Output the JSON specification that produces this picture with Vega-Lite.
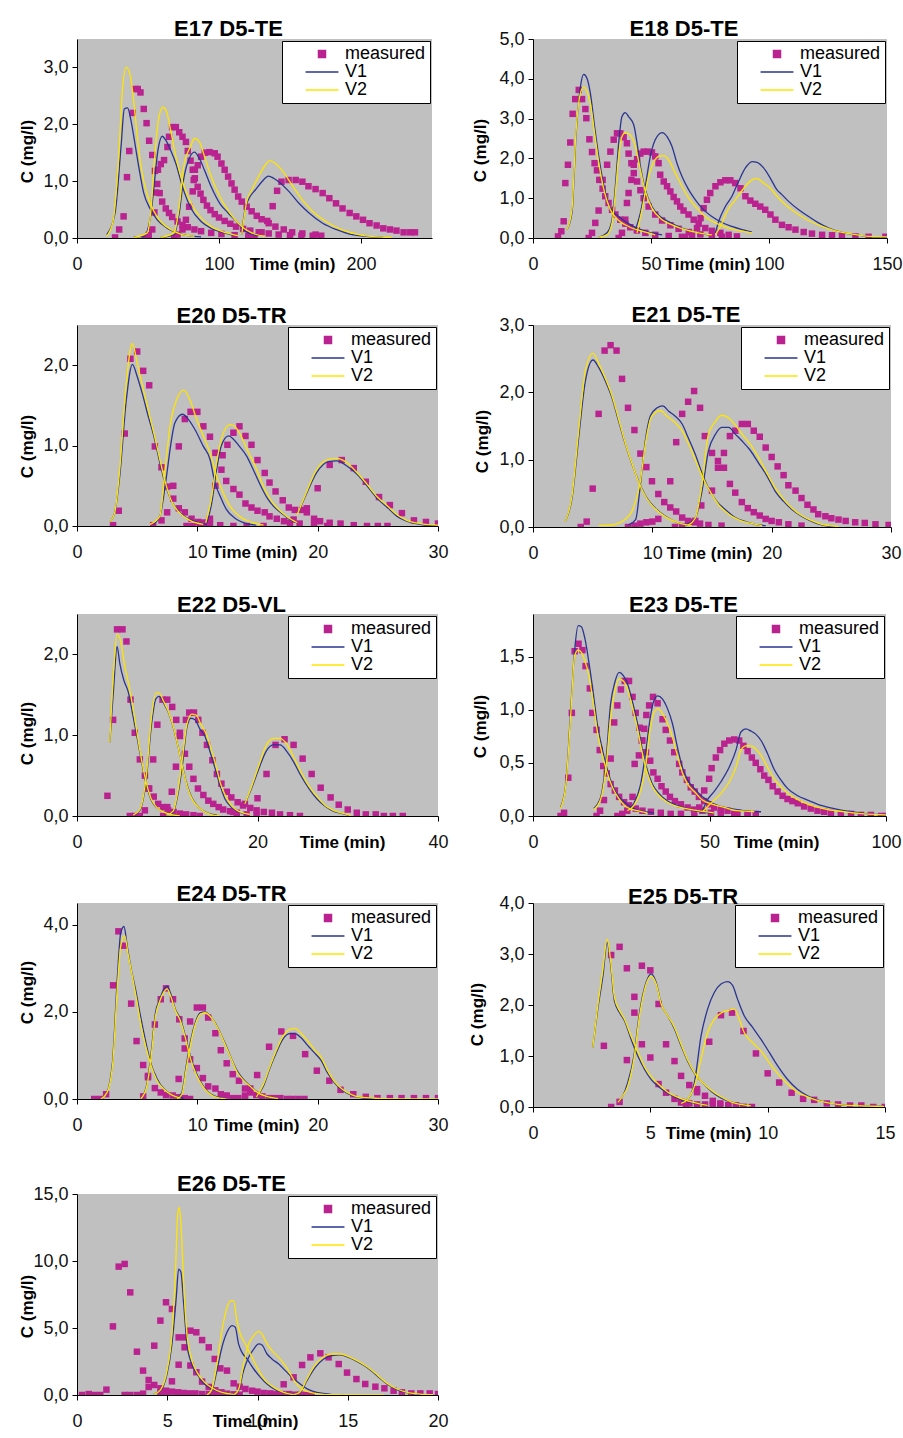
{
"$schema":"https://vega.github.io/schema/vega-lite/v6.json",
"background":"white",
"padding":{"left":18,"top":18,"right":0,"bottom":0},
"config":{
 "locale":{"number":{"decimal":",","thousands":".","grouping":[3],"currency":["","€"]}},
 "font":"Liberation Sans",
 "view":{"fill":"#C0C0C0","stroke":null},
 "axis":{"grid":false,"domainColor":"black","domainWidth":1,"tickColor":"black","tickSize":5,"labelFont":"Liberation Sans","labelFontSize":18,"labelColor":"#111111","titleFont":"Liberation Sans","titleFontSize":17,"titleFontWeight":"bold","titleColor":"black","labelOverlap":false,"labelFlush":false},
 "axisX":{"labelPadding":12,"titleY":26,"titleBaseline":"middle","titleAlign":"center","format":"d"},
 "axisY":{"labelPadding":4,"titleBaseline":"middle","titleAlign":"center","titleAngle":-90,"format":".1f"},
 "title":{"font":"Liberation Sans","fontSize":22,"fontWeight":"bold","color":"black","anchor":"middle","baseline":"alphabetic","offset":-3,"dx":-26},
 "legend":{"orient":"top-right","offset":2,"fillColor":"white","strokeColor":"black","padding":4,"labelFont":"Liberation Sans","labelFontSize":18,"labelColor":"black","symbolSize":49,"rowPadding":-2,"symbolOffset":27,"labelOffset":14}
},
"datasets":{
"E17":[
{"s":"m","t":26.8,"c":0.01},{"s":"m","t":29.7,"c":0.15},{"s":"m","t":32.8,"c":0.38},{"s":"m","t":35.2,"c":1.07},{"s":"m","t":36.8,"c":1.53},{"s":"m","t":39.2,"c":2.2},{"s":"m","t":41.1,"c":2.62},{"s":"m","t":42.8,"c":2.62},{"s":"m","t":44.7,"c":2.56},{"s":"m","t":47,"c":2.27},{"s":"m","t":49,"c":2.02},{"s":"m","t":50.8,"c":1.71},{"s":"m","t":53,"c":1.46},{"s":"m","t":54.9,"c":1.18},{"s":"m","t":56.5,"c":0.95},{"s":"m","t":58.2,"c":0.79},{"s":"m","t":60,"c":0.64},{"s":"m","t":62.5,"c":0.52},{"s":"m","t":64.8,"c":0.44},{"s":"m","t":67,"c":0.37},{"s":"m","t":70.8,"c":0.29},{"s":"m","t":74.3,"c":0.23},{"s":"m","t":78,"c":0.19},{"s":"m","t":82.7,"c":0.15},{"s":"m","t":87.4,"c":0.12},{"s":"m","t":94.5,"c":0.09},{"s":"m","t":101.7,"c":0.07},{"s":"m","t":111,"c":0.05},{"s":"m","t":120.7,"c":0.04},
{"s":"m","t":47.5,"c":0},{"s":"m","t":50.5,"c":0.05},{"s":"m","t":53,"c":0.15},{"s":"m","t":54.5,"c":0.45},{"s":"m","t":55.5,"c":0.8},{"s":"m","t":57,"c":1.2},{"s":"m","t":59,"c":1.3},{"s":"m","t":61.3,"c":1.37},{"s":"m","t":63.7,"c":1.6},{"s":"m","t":64.8,"c":1.78},{"s":"m","t":67,"c":1.95},{"s":"m","t":69.6,"c":1.95},{"s":"m","t":72,"c":1.86},{"s":"m","t":74.3,"c":1.78},{"s":"m","t":76.7,"c":1.69},{"s":"m","t":78,"c":1.53},{"s":"m","t":80,"c":1.36},{"s":"m","t":81.5,"c":1.2},{"s":"m","t":83,"c":1.05},{"s":"m","t":85,"c":0.9},{"s":"m","t":87,"c":0.78},{"s":"m","t":89,"c":0.67},{"s":"m","t":91.5,"c":0.57},{"s":"m","t":94,"c":0.49},{"s":"m","t":97,"c":0.42},{"s":"m","t":100,"c":0.36},{"s":"m","t":104,"c":0.3},{"s":"m","t":108,"c":0.25},{"s":"m","t":112,"c":0.2},{"s":"m","t":117,"c":0.16},{"s":"m","t":122,"c":0.13},{"s":"m","t":128,"c":0.1},{"s":"m","t":135,"c":0.08},{"s":"m","t":142,"c":0.06},{"s":"m","t":150,"c":0.05},{"s":"m","t":158,"c":0.04},{"s":"m","t":166,"c":0.04},{"s":"m","t":172,"c":0.04},
{"s":"m","t":68.4,"c":0},{"s":"m","t":70.8,"c":0.06},{"s":"m","t":74.3,"c":0.15},{"s":"m","t":76.7,"c":0.32},{"s":"m","t":79,"c":0.55},{"s":"m","t":81.5,"c":0.82},{"s":"m","t":82.2,"c":1.02},{"s":"m","t":83,"c":1.2},{"s":"m","t":85,"c":1.28},{"s":"m","t":87.4,"c":1.43},{"s":"m","t":90,"c":1.5},{"s":"m","t":93.3,"c":1.51},{"s":"m","t":97,"c":1.49},{"s":"m","t":99,"c":1.43},{"s":"m","t":101.7,"c":1.31},{"s":"m","t":104,"c":1.2},{"s":"m","t":106.4,"c":1.08},{"s":"m","t":108.8,"c":0.96},{"s":"m","t":111,"c":0.85},{"s":"m","t":113.5,"c":0.73},{"s":"m","t":116,"c":0.64},{"s":"m","t":119.5,"c":0.55},{"s":"m","t":123,"c":0.47},{"s":"m","t":126.6,"c":0.39},{"s":"m","t":130,"c":0.33},{"s":"m","t":135,"c":0.26},{"s":"m","t":139.7,"c":0.2},{"s":"m","t":145.6,"c":0.15},{"s":"m","t":151.5,"c":0.1},{"s":"m","t":158.7,"c":0.08},{"s":"m","t":168,"c":0.06},
{"s":"m","t":120.7,"c":0.01},{"s":"m","t":125,"c":0.03},{"s":"m","t":130,"c":0.1},{"s":"m","t":134,"c":0.3},{"s":"m","t":137.8,"c":0.56},{"s":"m","t":140.9,"c":0.83},{"s":"m","t":144,"c":0.99},{"s":"m","t":149,"c":1.02},{"s":"m","t":154,"c":1.02},{"s":"m","t":158.7,"c":0.99},{"s":"m","t":163,"c":0.91},{"s":"m","t":168,"c":0.86},{"s":"m","t":173,"c":0.79},{"s":"m","t":177.7,"c":0.7},{"s":"m","t":182.4,"c":0.61},{"s":"m","t":187,"c":0.52},{"s":"m","t":192,"c":0.44},{"s":"m","t":196.7,"c":0.38},{"s":"m","t":201.4,"c":0.32},{"s":"m","t":206,"c":0.26},{"s":"m","t":211,"c":0.22},{"s":"m","t":215.7,"c":0.17},{"s":"m","t":220.4,"c":0.15},{"s":"m","t":225,"c":0.13},{"s":"m","t":230,"c":0.1},{"s":"m","t":234.7,"c":0.1},{"s":"m","t":238,"c":0.1},
{"s":"V1","k":1,"t":20.9,"c":0.06},{"s":"V1","k":1,"t":26.8,"c":0.44},{"s":"V1","k":1,"t":31,"c":1.6},{"s":"V1","k":1,"t":33.3,"c":2.27},{"s":"V1","k":1,"t":35.6,"c":2.29},{"s":"V1","k":1,"t":38,"c":2.07},{"s":"V1","k":1,"t":40.4,"c":1.72},{"s":"V1","k":1,"t":43.5,"c":1.25},{"s":"V1","k":1,"t":47,"c":0.79},{"s":"V1","k":1,"t":51.8,"c":0.5},{"s":"V1","k":1,"t":56.5,"c":0.32},{"s":"V1","k":1,"t":63.7,"c":0.17},{"s":"V1","k":1,"t":70.8,"c":0.09},{"s":"V1","k":1,"t":78,"c":0.04},{"s":"V1","k":1,"t":87.4,"c":0.02},
{"s":"V1","k":2,"t":40,"c":0.02},{"s":"V1","k":2,"t":47,"c":0.03},{"s":"V1","k":2,"t":51.8,"c":0.38},{"s":"V1","k":2,"t":54.2,"c":0.9},{"s":"V1","k":2,"t":57,"c":1.54},{"s":"V1","k":2,"t":60,"c":1.79},{"s":"V1","k":2,"t":62.5,"c":1.72},{"s":"V1","k":2,"t":66,"c":1.54},{"s":"V1","k":2,"t":69.6,"c":1.31},{"s":"V1","k":2,"t":74.3,"c":0.9},{"s":"V1","k":2,"t":80.3,"c":0.52},{"s":"V1","k":2,"t":87.4,"c":0.29},{"s":"V1","k":2,"t":94.5,"c":0.17},{"s":"V1","k":2,"t":104,"c":0.09},{"s":"V1","k":2,"t":111,"c":0.04},
{"s":"V1","k":3,"t":58.9,"c":0.01},{"s":"V1","k":3,"t":68.4,"c":0.06},{"s":"V1","k":3,"t":72,"c":0.44},{"s":"V1","k":3,"t":75,"c":1.02},{"s":"V1","k":3,"t":79,"c":1.4},{"s":"V1","k":3,"t":82.7,"c":1.51},{"s":"V1","k":3,"t":86.2,"c":1.4},{"s":"V1","k":3,"t":89.8,"c":1.19},{"s":"V1","k":3,"t":94.5,"c":0.9},{"s":"V1","k":3,"t":100.5,"c":0.61},{"s":"V1","k":3,"t":106.4,"c":0.44},{"s":"V1","k":3,"t":113.5,"c":0.26},{"s":"V1","k":3,"t":117,"c":0.15},{"s":"V1","k":3,"t":120.7,"c":0.09},{"s":"V1","k":3,"t":127.8,"c":0.04},
{"s":"V1","k":4,"t":116,"c":0.06},{"s":"V1","k":4,"t":118.3,"c":0.5},{"s":"V1","k":4,"t":121.9,"c":0.73},{"s":"V1","k":4,"t":125.4,"c":0.84},{"s":"V1","k":4,"t":130.2,"c":0.99},{"s":"V1","k":4,"t":134.9,"c":1.09},{"s":"V1","k":4,"t":138.5,"c":1.05},{"s":"V1","k":4,"t":142,"c":0.99},{"s":"V1","k":4,"t":149.2,"c":0.82},{"s":"V1","k":4,"t":156.3,"c":0.61},{"s":"V1","k":4,"t":163.4,"c":0.44},{"s":"V1","k":4,"t":173,"c":0.26},{"s":"V1","k":4,"t":182.4,"c":0.15},{"s":"V1","k":4,"t":192,"c":0.07},{"s":"V1","k":4,"t":203.8,"c":0.03},{"s":"V1","k":4,"t":215.7,"c":0.01},
{"s":"V2","k":1,"t":20.9,"c":0.03},{"s":"V2","k":1,"t":25.6,"c":0.32},{"s":"V2","k":1,"t":29.2,"c":1.37},{"s":"V2","k":1,"t":32.3,"c":2.7},{"s":"V2","k":1,"t":34.7,"c":3.0},{"s":"V2","k":1,"t":37,"c":2.91},{"s":"V2","k":1,"t":39.4,"c":2.53},{"s":"V2","k":1,"t":42.3,"c":1.83},{"s":"V2","k":1,"t":45.1,"c":1.25},{"s":"V2","k":1,"t":49.4,"c":0.76},{"s":"V2","k":1,"t":54.2,"c":0.47},{"s":"V2","k":1,"t":58.9,"c":0.29},{"s":"V2","k":1,"t":66,"c":0.15},{"s":"V2","k":1,"t":73,"c":0.07},{"s":"V2","k":1,"t":82.7,"c":0.03},
{"s":"V2","k":2,"t":40,"c":0.01},{"s":"V2","k":2,"t":49.4,"c":0.09},{"s":"V2","k":2,"t":52.3,"c":0.55},{"s":"V2","k":2,"t":54.7,"c":1.43},{"s":"V2","k":2,"t":57.7,"c":2.13},{"s":"V2","k":2,"t":60.5,"c":2.3},{"s":"V2","k":2,"t":63.2,"c":2.21},{"s":"V2","k":2,"t":66,"c":1.89},{"s":"V2","k":2,"t":69.6,"c":1.43},{"s":"V2","k":2,"t":74.3,"c":0.99},{"s":"V2","k":2,"t":80.3,"c":0.61},{"s":"V2","k":2,"t":87.4,"c":0.35},{"s":"V2","k":2,"t":94.5,"c":0.2},{"s":"V2","k":2,"t":104,"c":0.1},{"s":"V2","k":2,"t":113.5,"c":0.04},
{"s":"V2","k":3,"t":58.9,"c":0.01},{"s":"V2","k":3,"t":68.4,"c":0.09},{"s":"V2","k":3,"t":72,"c":0.55},{"s":"V2","k":3,"t":75.5,"c":1.31},{"s":"V2","k":3,"t":79.8,"c":1.6},{"s":"V2","k":3,"t":82.7,"c":1.75},{"s":"V2","k":3,"t":86.2,"c":1.69},{"s":"V2","k":3,"t":90.2,"c":1.4},{"s":"V2","k":3,"t":94.5,"c":1.08},{"s":"V2","k":3,"t":100.5,"c":0.73},{"s":"V2","k":3,"t":107.6,"c":0.44},{"s":"V2","k":3,"t":116,"c":0.2},{"s":"V2","k":3,"t":123,"c":0.09},{"s":"V2","k":3,"t":132.5,"c":0.03},
{"s":"V2","k":4,"t":116,"c":0.06},{"s":"V2","k":4,"t":119.5,"c":0.64},{"s":"V2","k":4,"t":123,"c":0.84},{"s":"V2","k":4,"t":127.8,"c":1.08},{"s":"V2","k":4,"t":132.5,"c":1.28},{"s":"V2","k":4,"t":136,"c":1.36},{"s":"V2","k":4,"t":139.7,"c":1.31},{"s":"V2","k":4,"t":144.4,"c":1.19},{"s":"V2","k":4,"t":151.5,"c":0.93},{"s":"V2","k":4,"t":158.7,"c":0.67},{"s":"V2","k":4,"t":165.8,"c":0.47},{"s":"V2","k":4,"t":175.3,"c":0.29},{"s":"V2","k":4,"t":184.8,"c":0.16},{"s":"V2","k":4,"t":196.7,"c":0.07},{"s":"V2","k":4,"t":211,"c":0.02},{"s":"V2","k":4,"t":221.6,"c":0.01}
],
"E18":[
{"s":"m","t":10.6,"c":0.04},{"s":"m","t":12,"c":0.17},{"s":"m","t":13,"c":0.42},{"s":"m","t":13.7,"c":1.38},{"s":"m","t":14.8,"c":1.84},{"s":"m","t":15.8,"c":2.4},{"s":"m","t":16.8,"c":3.12},{"s":"m","t":17.9,"c":3.49},{"s":"m","t":19.4,"c":3.72},{"s":"m","t":20.8,"c":3.49},{"s":"m","t":22.2,"c":3.24},{"s":"m","t":22.6,"c":3.01},{"s":"m","t":23.9,"c":2.48},{"s":"m","t":25,"c":2.16},{"s":"m","t":26.1,"c":1.88},{"s":"m","t":27.1,"c":1.7},{"s":"m","t":28.1,"c":1.46},{"s":"m","t":29.5,"c":1.24},{"s":"m","t":30.6,"c":1.05},{"s":"m","t":32,"c":0.88},{"s":"m","t":33.5,"c":0.71},{"s":"m","t":34.9,"c":0.59},{"s":"m","t":37,"c":0.46},{"s":"m","t":39.1,"c":0.36},{"s":"m","t":41.2,"c":0.27},{"s":"m","t":44,"c":0.19},{"s":"m","t":47.6,"c":0.13},{"s":"m","t":51.8,"c":0.08},{"s":"m","t":57.5,"c":0.05},{"s":"m","t":63.1,"c":0.03},
{"s":"m","t":23.6,"c":0},{"s":"m","t":25,"c":0.13},{"s":"m","t":26.4,"c":0.38},{"s":"m","t":27.8,"c":0.69},{"s":"m","t":29.5,"c":1.46},{"s":"m","t":31.4,"c":1.84},{"s":"m","t":32.8,"c":2.17},{"s":"m","t":34.2,"c":2.47},{"s":"m","t":35.6,"c":2.63},{"s":"m","t":37,"c":2.63},{"s":"m","t":38.4,"c":2.53},{"s":"m","t":39.8,"c":2.38},{"s":"m","t":40.5,"c":2.12},{"s":"m","t":41.7,"c":1.88},{"s":"m","t":42.7,"c":1.63},{"s":"m","t":44.1,"c":1.42},{"s":"m","t":45.5,"c":1.2},{"s":"m","t":46.9,"c":1.0},{"s":"m","t":49,"c":0.79},{"s":"m","t":51.8,"c":0.59},{"s":"m","t":54.7,"c":0.44},{"s":"m","t":58.2,"c":0.32},{"s":"m","t":61.7,"c":0.23},{"s":"m","t":66,"c":0.15},{"s":"m","t":70.9,"c":0.09},{"s":"m","t":75.8,"c":0.06},{"s":"m","t":80,"c":0.03},
{"s":"m","t":36.3,"c":0},{"s":"m","t":37.7,"c":0.13},{"s":"m","t":39.1,"c":0.46},{"s":"m","t":39.8,"c":0.88},{"s":"m","t":40.5,"c":1.13},{"s":"m","t":41.7,"c":1.46},{"s":"m","t":42.7,"c":1.84},{"s":"m","t":44.1,"c":1.98},{"s":"m","t":45.5,"c":2.12},{"s":"m","t":46.9,"c":2.17},{"s":"m","t":48.7,"c":2.17},{"s":"m","t":50.4,"c":2.15},{"s":"m","t":51.8,"c":2.05},{"s":"m","t":53.2,"c":1.88},{"s":"m","t":53.9,"c":1.59},{"s":"m","t":55.4,"c":1.42},{"s":"m","t":56.8,"c":1.3},{"s":"m","t":58.2,"c":1.17},{"s":"m","t":59.6,"c":1.03},{"s":"m","t":61,"c":0.92},{"s":"m","t":62.4,"c":0.79},{"s":"m","t":63.8,"c":0.69},{"s":"m","t":65.9,"c":0.59},{"s":"m","t":68.1,"c":0.46},{"s":"m","t":70.2,"c":0.36},{"s":"m","t":73,"c":0.25},{"s":"m","t":75.8,"c":0.18},{"s":"m","t":79.4,"c":0.13},{"s":"m","t":82.9,"c":0.08},{"s":"m","t":86.4,"c":0.04},
{"s":"m","t":64.5,"c":0.02},{"s":"m","t":67.4,"c":0.08},{"s":"m","t":69.5,"c":0.25},{"s":"m","t":71,"c":0.5},{"s":"m","t":72.3,"c":0.75},{"s":"m","t":73.7,"c":0.96},{"s":"m","t":75.1,"c":1.13},{"s":"m","t":77.3,"c":1.3},{"s":"m","t":79.4,"c":1.4},{"s":"m","t":81.5,"c":1.45},{"s":"m","t":83.6,"c":1.45},{"s":"m","t":85.7,"c":1.38},{"s":"m","t":87.9,"c":1.25},{"s":"m","t":90,"c":1.05},{"s":"m","t":92.1,"c":0.94},{"s":"m","t":94.2,"c":0.86},{"s":"m","t":96.3,"c":0.79},{"s":"m","t":98.4,"c":0.71},{"s":"m","t":100.6,"c":0.59},{"s":"m","t":102.7,"c":0.46},{"s":"m","t":105.5,"c":0.33},{"s":"m","t":108.3,"c":0.27},{"s":"m","t":111.2,"c":0.21},{"s":"m","t":114.7,"c":0.15},{"s":"m","t":118.2,"c":0.11},{"s":"m","t":122.5,"c":0.08},{"s":"m","t":126.7,"c":0.07},{"s":"m","t":130.9,"c":0.06},{"s":"m","t":136.6,"c":0.04},{"s":"m","t":142.2,"c":0.03},{"s":"m","t":149.3,"c":0.03},
{"s":"V1","k":1,"t":14.4,"c":0.21},{"s":"V1","k":1,"t":16.5,"c":0.63},{"s":"V1","k":1,"t":18.2,"c":2.55},{"s":"V1","k":1,"t":20.1,"c":3.8},{"s":"V1","k":1,"t":21.5,"c":4.11},{"s":"V1","k":1,"t":22.9,"c":4.01},{"s":"V1","k":1,"t":24.3,"c":3.64},{"s":"V1","k":1,"t":26.1,"c":2.8},{"s":"V1","k":1,"t":28.1,"c":1.96},{"s":"V1","k":1,"t":30.4,"c":1.21},{"s":"V1","k":1,"t":32.8,"c":0.75},{"s":"V1","k":1,"t":36.3,"c":0.54},{"s":"V1","k":1,"t":40.5,"c":0.36},{"s":"V1","k":1,"t":44.8,"c":0.23},{"s":"V1","k":1,"t":49,"c":0.15},{"s":"V1","k":1,"t":54.7,"c":0.08},
{"s":"V1","k":2,"t":27.8,"c":0.02},{"s":"V1","k":2,"t":31.4,"c":0.13},{"s":"V1","k":2,"t":33.5,"c":0.46},{"s":"V1","k":2,"t":34.9,"c":1.3},{"s":"V1","k":2,"t":36.3,"c":2.38},{"s":"V1","k":2,"t":37.7,"c":3.05},{"s":"V1","k":2,"t":39.1,"c":3.15},{"s":"V1","k":2,"t":40.5,"c":3.05},{"s":"V1","k":2,"t":42.7,"c":2.84},{"s":"V1","k":2,"t":44.1,"c":2.38},{"s":"V1","k":2,"t":45.5,"c":1.8},{"s":"V1","k":2,"t":47.6,"c":1.21},{"s":"V1","k":2,"t":50.4,"c":0.79},{"s":"V1","k":2,"t":53.9,"c":0.54},{"s":"V1","k":2,"t":58.2,"c":0.39},{"s":"V1","k":2,"t":63.1,"c":0.25},{"s":"V1","k":2,"t":68.8,"c":0.15},{"s":"V1","k":2,"t":74.4,"c":0.08},
{"s":"V1","k":3,"t":43.4,"c":0.21},{"s":"V1","k":3,"t":45.5,"c":0.63},{"s":"V1","k":3,"t":47.6,"c":1.3},{"s":"V1","k":3,"t":49.7,"c":2.05},{"s":"V1","k":3,"t":51.8,"c":2.47},{"s":"V1","k":3,"t":54.7,"c":2.65},{"s":"V1","k":3,"t":56.8,"c":2.55},{"s":"V1","k":3,"t":58.9,"c":2.3},{"s":"V1","k":3,"t":61,"c":1.88},{"s":"V1","k":3,"t":63.1,"c":1.55},{"s":"V1","k":3,"t":66,"c":1.21},{"s":"V1","k":3,"t":68.8,"c":0.96},{"s":"V1","k":3,"t":71.6,"c":0.75},{"s":"V1","k":3,"t":75.8,"c":0.54},{"s":"V1","k":3,"t":80.1,"c":0.39},{"s":"V1","k":3,"t":84.3,"c":0.29},{"s":"V1","k":3,"t":88.6,"c":0.21},{"s":"V1","k":3,"t":92.8,"c":0.15},
{"s":"V1","k":4,"t":77.3,"c":0.13},{"s":"V1","k":4,"t":78.7,"c":0.42},{"s":"V1","k":4,"t":81.5,"c":0.79},{"s":"V1","k":4,"t":84.3,"c":1.05},{"s":"V1","k":4,"t":87.1,"c":1.42},{"s":"V1","k":4,"t":90,"c":1.76},{"s":"V1","k":4,"t":92.8,"c":1.92},{"s":"V1","k":4,"t":94.9,"c":1.9},{"s":"V1","k":4,"t":97.7,"c":1.76},{"s":"V1","k":4,"t":100.6,"c":1.5},{"s":"V1","k":4,"t":103.4,"c":1.21},{"s":"V1","k":4,"t":105.5,"c":1.09},{"s":"V1","k":4,"t":108.3,"c":0.92},{"s":"V1","k":4,"t":112.6,"c":0.71},{"s":"V1","k":4,"t":116.8,"c":0.54},{"s":"V1","k":4,"t":121,"c":0.38},{"s":"V1","k":4,"t":125.3,"c":0.25},{"s":"V1","k":4,"t":130.9,"c":0.14},{"s":"V1","k":4,"t":136.6,"c":0.08},{"s":"V1","k":4,"t":143.6,"c":0.03},{"s":"V1","k":4,"t":150,"c":0.02},
{"s":"V2","k":1,"t":14.4,"c":0.21},{"s":"V2","k":1,"t":16.5,"c":0.71},{"s":"V2","k":1,"t":18.2,"c":2.63},{"s":"V2","k":1,"t":20.1,"c":3.64},{"s":"V2","k":1,"t":21.5,"c":3.79},{"s":"V2","k":1,"t":22.9,"c":3.68},{"s":"V2","k":1,"t":24.3,"c":3.39},{"s":"V2","k":1,"t":26.1,"c":2.63},{"s":"V2","k":1,"t":28.1,"c":1.8},{"s":"V2","k":1,"t":30.4,"c":1.13},{"s":"V2","k":1,"t":32.8,"c":0.71},{"s":"V2","k":1,"t":36.3,"c":0.44},{"s":"V2","k":1,"t":40.5,"c":0.29},{"s":"V2","k":1,"t":46.2,"c":0.17},{"s":"V2","k":1,"t":51.8,"c":0.08},
{"s":"V2","k":2,"t":27.8,"c":0.02},{"s":"V2","k":2,"t":31.4,"c":0.08},{"s":"V2","k":2,"t":33.5,"c":0.38},{"s":"V2","k":2,"t":34.9,"c":1.13},{"s":"V2","k":2,"t":36.3,"c":2.05},{"s":"V2","k":2,"t":37.7,"c":2.55},{"s":"V2","k":2,"t":39.1,"c":2.65},{"s":"V2","k":2,"t":41.2,"c":2.59},{"s":"V2","k":2,"t":43.4,"c":2.3},{"s":"V2","k":2,"t":45.5,"c":1.71},{"s":"V2","k":2,"t":47.6,"c":1.17},{"s":"V2","k":2,"t":50.4,"c":0.75},{"s":"V2","k":2,"t":54.7,"c":0.46},{"s":"V2","k":2,"t":58.9,"c":0.33},{"s":"V2","k":2,"t":64.5,"c":0.21},{"s":"V2","k":2,"t":70.2,"c":0.13},{"s":"V2","k":2,"t":75.8,"c":0.08},
{"s":"V2","k":3,"t":44.1,"c":0.13},{"s":"V2","k":3,"t":46.2,"c":0.71},{"s":"V2","k":3,"t":48.3,"c":1.38},{"s":"V2","k":3,"t":50.4,"c":1.8},{"s":"V2","k":3,"t":53.2,"c":2.05},{"s":"V2","k":3,"t":55.4,"c":2.07},{"s":"V2","k":3,"t":57.5,"c":1.96},{"s":"V2","k":3,"t":60.3,"c":1.63},{"s":"V2","k":3,"t":63.1,"c":1.3},{"s":"V2","k":3,"t":66,"c":1.0},{"s":"V2","k":3,"t":69.5,"c":0.75},{"s":"V2","k":3,"t":73.7,"c":0.5},{"s":"V2","k":3,"t":78,"c":0.36},{"s":"V2","k":3,"t":82.9,"c":0.25},{"s":"V2","k":3,"t":88.6,"c":0.17},{"s":"V2","k":3,"t":92.8,"c":0.13},
{"s":"V2","k":4,"t":77.3,"c":0.08},{"s":"V2","k":4,"t":79.4,"c":0.29},{"s":"V2","k":4,"t":82.2,"c":0.67},{"s":"V2","k":4,"t":85.7,"c":0.96},{"s":"V2","k":4,"t":89.3,"c":1.25},{"s":"V2","k":4,"t":92.8,"c":1.46},{"s":"V2","k":4,"t":94.9,"c":1.5},{"s":"V2","k":4,"t":97.7,"c":1.38},{"s":"V2","k":4,"t":100.6,"c":1.25},{"s":"V2","k":4,"t":103.4,"c":1.05},{"s":"V2","k":4,"t":106.9,"c":0.84},{"s":"V2","k":4,"t":111.2,"c":0.64},{"s":"V2","k":4,"t":116.8,"c":0.44},{"s":"V2","k":4,"t":122.5,"c":0.29},{"s":"V2","k":4,"t":128.1,"c":0.18},{"s":"V2","k":4,"t":135.2,"c":0.1},{"s":"V2","k":4,"t":142.2,"c":0.04},{"s":"V2","k":4,"t":150,"c":0.03}
],
"E20":[
{"s":"m","t":3.0,"c":0.01},{"s":"m","t":3.47,"c":0.19},{"s":"m","t":3.97,"c":1.15},{"s":"m","t":4.44,"c":2.08},{"s":"m","t":5.0,"c":2.17},{"s":"m","t":5.5,"c":1.93},{"s":"m","t":6.0,"c":1.75},{"s":"m","t":6.47,"c":0.99},{"s":"m","t":7.02,"c":0.73},{"s":"m","t":7.49,"c":0.49},{"s":"m","t":8.0,"c":0.34},{"s":"m","t":8.46,"c":0.22},{"s":"m","t":8.96,"c":0.17},{"s":"m","t":9.52,"c":0.09},{"s":"m","t":10.07,"c":0.05},{"s":"m","t":10.5,"c":0.04},{"s":"m","t":11.05,"c":0.02},{"s":"m","t":11.9,"c":0.01},{"s":"m","t":13,"c":0},{"s":"m","t":14.1,"c":0},{"s":"m","t":15.5,"c":0},
{"s":"m","t":6.33,"c":0.01},{"s":"m","t":7.02,"c":0.07},{"s":"m","t":7.49,"c":0.17},{"s":"m","t":8.0,"c":0.5},{"s":"m","t":8.46,"c":0.99},{"s":"m","t":8.96,"c":1.33},{"s":"m","t":9.44,"c":1.42},{"s":"m","t":10,"c":1.42},{"s":"m","t":10.5,"c":1.24},{"s":"m","t":11.05,"c":1.11},{"s":"m","t":11.5,"c":0.91},{"s":"m","t":12,"c":0.7},{"s":"m","t":12.4,"c":0.56},{"s":"m","t":13,"c":0.46},{"s":"m","t":13.5,"c":0.39},{"s":"m","t":14,"c":0.28},{"s":"m","t":14.5,"c":0.23},{"s":"m","t":15,"c":0.19},{"s":"m","t":15.6,"c":0.17},{"s":"m","t":16,"c":0.12},{"s":"m","t":16.6,"c":0.09},{"s":"m","t":17.2,"c":0.06},{"s":"m","t":17.7,"c":0.04},{"s":"m","t":18.5,"c":0.03},{"s":"m","t":19.7,"c":0.01},{"s":"m","t":20.8,"c":0},
{"s":"m","t":9.1,"c":0},{"s":"m","t":9.6,"c":0},{"s":"m","t":10.2,"c":0},{"s":"m","t":10.6,"c":0.04},{"s":"m","t":11.05,"c":0.09},{"s":"m","t":11.5,"c":0.5},{"s":"m","t":12.1,"c":0.88},{"s":"m","t":12.5,"c":1.01},{"s":"m","t":13,"c":1.16},{"s":"m","t":13.5,"c":1.24},{"s":"m","t":14,"c":1.12},{"s":"m","t":14.5,"c":1.01},{"s":"m","t":15,"c":0.82},{"s":"m","t":15.6,"c":0.66},{"s":"m","t":16,"c":0.54},{"s":"m","t":16.5,"c":0.43},{"s":"m","t":17.1,"c":0.32},{"s":"m","t":17.6,"c":0.23},{"s":"m","t":18.1,"c":0.2},{"s":"m","t":18.7,"c":0.2},{"s":"m","t":19.1,"c":0.17},{"s":"m","t":19.7,"c":0.09},{"s":"m","t":20.2,"c":0.06},{"s":"m","t":21,"c":0.04},{"s":"m","t":21.9,"c":0.03},{"s":"m","t":23,"c":0.01},{"s":"m","t":24.1,"c":0},{"s":"m","t":25,"c":0},{"s":"m","t":25.8,"c":0},
{"s":"m","t":18,"c":0.08},{"s":"m","t":19.1,"c":0.22},{"s":"m","t":20,"c":0.47},{"s":"m","t":21,"c":0.76},{"s":"m","t":22,"c":0.82},{"s":"m","t":23,"c":0.72},{"s":"m","t":24,"c":0.55},{"s":"m","t":25.1,"c":0.36},{"s":"m","t":26,"c":0.26},{"s":"m","t":27,"c":0.16},{"s":"m","t":28,"c":0.07},{"s":"m","t":29,"c":0.05},{"s":"m","t":30,"c":0.03},
{"s":"V1","k":1,"t":2.72,"c":0.05},{"s":"V1","k":1,"t":3.14,"c":0.17},{"s":"V1","k":1,"t":3.55,"c":0.62},{"s":"V1","k":1,"t":4.1,"c":1.57},{"s":"V1","k":1,"t":4.6,"c":2.01},{"s":"V1","k":1,"t":5.0,"c":1.86},{"s":"V1","k":1,"t":5.44,"c":1.64},{"s":"V1","k":1,"t":5.91,"c":1.37},{"s":"V1","k":1,"t":6.38,"c":1.12},{"s":"V1","k":1,"t":6.88,"c":0.79},{"s":"V1","k":1,"t":7.38,"c":0.5},{"s":"V1","k":1,"t":7.85,"c":0.31},{"s":"V1","k":1,"t":8.55,"c":0.17},{"s":"V1","k":1,"t":9.38,"c":0.08},{"s":"V1","k":1,"t":10.2,"c":0.04},{"s":"V1","k":1,"t":10.8,"c":0.02},
{"s":"V1","k":2,"t":6.33,"c":0.02},{"s":"V1","k":2,"t":6.88,"c":0.12},{"s":"V1","k":2,"t":7.44,"c":0.62},{"s":"V1","k":2,"t":7.77,"c":0.99},{"s":"V1","k":2,"t":8.13,"c":1.28},{"s":"V1","k":2,"t":8.77,"c":1.39},{"s":"V1","k":2,"t":9.24,"c":1.33},{"s":"V1","k":2,"t":9.8,"c":1.2},{"s":"V1","k":2,"t":10.5,"c":0.99},{"s":"V1","k":2,"t":11.05,"c":0.83},{"s":"V1","k":2,"t":11.46,"c":0.54},{"s":"V1","k":2,"t":11.9,"c":0.37},{"s":"V1","k":2,"t":12.4,"c":0.21},{"s":"V1","k":2,"t":13.1,"c":0.1},{"s":"V1","k":2,"t":14.1,"c":0.03},{"s":"V1","k":2,"t":14.9,"c":0.01},
{"s":"V1","k":3,"t":10.8,"c":0.04},{"s":"V1","k":3,"t":11.2,"c":0.29},{"s":"V1","k":3,"t":11.6,"c":0.7},{"s":"V1","k":3,"t":12.0,"c":1.0},{"s":"V1","k":3,"t":12.6,"c":1.12},{"s":"V1","k":3,"t":13.0,"c":1.08},{"s":"V1","k":3,"t":13.5,"c":0.99},{"s":"V1","k":3,"t":14.1,"c":0.87},{"s":"V1","k":3,"t":14.65,"c":0.7},{"s":"V1","k":3,"t":15.2,"c":0.52},{"s":"V1","k":3,"t":15.8,"c":0.35},{"s":"V1","k":3,"t":16.3,"c":0.25},{"s":"V1","k":3,"t":17,"c":0.16},{"s":"V1","k":3,"t":17.7,"c":0.08},{"s":"V1","k":3,"t":18.3,"c":0.04},
{"s":"V1","k":4,"t":18.4,"c":0.17},{"s":"V1","k":4,"t":19.1,"c":0.41},{"s":"V1","k":4,"t":19.9,"c":0.66},{"s":"V1","k":4,"t":20.9,"c":0.8},{"s":"V1","k":4,"t":21.6,"c":0.81},{"s":"V1","k":4,"t":22.4,"c":0.75},{"s":"V1","k":4,"t":23.3,"c":0.64},{"s":"V1","k":4,"t":24.1,"c":0.5},{"s":"V1","k":4,"t":24.9,"c":0.35},{"s":"V1","k":4,"t":25.8,"c":0.23},{"s":"V1","k":4,"t":26.6,"c":0.12},{"s":"V1","k":4,"t":27.4,"c":0.06},{"s":"V1","k":4,"t":28.5,"c":0.02},{"s":"V1","k":4,"t":29.9,"c":0},
{"s":"V2","k":1,"t":2.72,"c":0.05},{"s":"V2","k":1,"t":3.14,"c":0.17},{"s":"V2","k":1,"t":3.55,"c":0.7},{"s":"V2","k":1,"t":4.05,"c":1.7},{"s":"V2","k":1,"t":4.6,"c":2.27},{"s":"V2","k":1,"t":5.0,"c":2.03},{"s":"V2","k":1,"t":5.44,"c":1.74},{"s":"V2","k":1,"t":5.91,"c":1.45},{"s":"V2","k":1,"t":6.38,"c":1.16},{"s":"V2","k":1,"t":6.88,"c":0.83},{"s":"V2","k":1,"t":7.38,"c":0.52},{"s":"V2","k":1,"t":7.85,"c":0.31},{"s":"V2","k":1,"t":8.55,"c":0.16},{"s":"V2","k":1,"t":9.38,"c":0.07},{"s":"V2","k":1,"t":10.5,"c":0.02},
{"s":"V2","k":2,"t":6.05,"c":0.02},{"s":"V2","k":2,"t":6.88,"c":0.12},{"s":"V2","k":2,"t":7.38,"c":0.79},{"s":"V2","k":2,"t":7.77,"c":1.28},{"s":"V2","k":2,"t":8.27,"c":1.57},{"s":"V2","k":2,"t":8.88,"c":1.69},{"s":"V2","k":2,"t":9.38,"c":1.57},{"s":"V2","k":2,"t":9.94,"c":1.33},{"s":"V2","k":2,"t":10.5,"c":1.12},{"s":"V2","k":2,"t":11.05,"c":0.91},{"s":"V2","k":2,"t":11.6,"c":0.62},{"s":"V2","k":2,"t":12.16,"c":0.41},{"s":"V2","k":2,"t":12.7,"c":0.25},{"s":"V2","k":2,"t":13.5,"c":0.12},{"s":"V2","k":2,"t":14.65,"c":0.04},{"s":"V2","k":2,"t":15.5,"c":0.01},
{"s":"V2","k":3,"t":10.7,"c":0.04},{"s":"V2","k":3,"t":11.2,"c":0.37},{"s":"V2","k":3,"t":11.6,"c":0.79},{"s":"V2","k":3,"t":12.0,"c":1.08},{"s":"V2","k":3,"t":12.7,"c":1.26},{"s":"V2","k":3,"t":13.1,"c":1.24},{"s":"V2","k":3,"t":13.7,"c":1.1},{"s":"V2","k":3,"t":14.2,"c":0.93},{"s":"V2","k":3,"t":14.8,"c":0.75},{"s":"V2","k":3,"t":15.35,"c":0.54},{"s":"V2","k":3,"t":15.9,"c":0.37},{"s":"V2","k":3,"t":16.6,"c":0.23},{"s":"V2","k":3,"t":17.4,"c":0.12},{"s":"V2","k":3,"t":18.3,"c":0.04},
{"s":"V2","k":4,"t":18.3,"c":0.14},{"s":"V2","k":4,"t":19.1,"c":0.43},{"s":"V2","k":4,"t":19.9,"c":0.7},{"s":"V2","k":4,"t":20.9,"c":0.83},{"s":"V2","k":4,"t":21.6,"c":0.84},{"s":"V2","k":4,"t":22.4,"c":0.79},{"s":"V2","k":4,"t":23.3,"c":0.66},{"s":"V2","k":4,"t":24.1,"c":0.52},{"s":"V2","k":4,"t":24.9,"c":0.37},{"s":"V2","k":4,"t":25.8,"c":0.25},{"s":"V2","k":4,"t":26.6,"c":0.14},{"s":"V2","k":4,"t":27.4,"c":0.07},{"s":"V2","k":4,"t":28.5,"c":0.03},{"s":"V2","k":4,"t":30,"c":0.01}
],
"E21":[
{"s":"m","t":4.0,"c":0},{"s":"m","t":4.5,"c":0.08},{"s":"m","t":5.0,"c":0.57},{"s":"m","t":5.5,"c":1.68},{"s":"m","t":6.0,"c":2.62},{"s":"m","t":6.5,"c":2.7},{"s":"m","t":7.0,"c":2.62},{"s":"m","t":7.46,"c":2.2},{"s":"m","t":7.96,"c":1.77},{"s":"m","t":8.5,"c":1.44},{"s":"m","t":9.0,"c":1.09},{"s":"m","t":9.5,"c":0.89},{"s":"m","t":9.97,"c":0.68},{"s":"m","t":10.5,"c":0.49},{"s":"m","t":11.0,"c":0.37},{"s":"m","t":11.5,"c":0.29},{"s":"m","t":12,"c":0.23},{"s":"m","t":12.5,"c":0.14},{"s":"m","t":13,"c":0.09},{"s":"m","t":13.5,"c":0.07},{"s":"m","t":14,"c":0.05},{"s":"m","t":14.7,"c":0.03},{"s":"m","t":15.8,"c":0.02},
{"s":"m","t":7.96,"c":0},{"s":"m","t":8.5,"c":0.02},{"s":"m","t":9.0,"c":0.05},{"s":"m","t":9.5,"c":0.07},{"s":"m","t":10,"c":0.08},{"s":"m","t":10.5,"c":0.12},{"s":"m","t":11.5,"c":0.68},{"s":"m","t":12.0,"c":1.26},{"s":"m","t":12.5,"c":1.68},{"s":"m","t":13,"c":1.86},{"s":"m","t":13.5,"c":2.02},{"s":"m","t":14,"c":1.77},{"s":"m","t":14.4,"c":1.35},{"s":"m","t":15,"c":1.1},{"s":"m","t":15.5,"c":0.98},{"s":"m","t":16,"c":0.88},{"s":"m","t":16.5,"c":0.64},{"s":"m","t":16.95,"c":0.51},{"s":"m","t":17.5,"c":0.37},{"s":"m","t":18,"c":0.28},{"s":"m","t":18.5,"c":0.22},{"s":"m","t":19,"c":0.17},{"s":"m","t":19.5,"c":0.12},{"s":"m","t":20,"c":0.09},{"s":"m","t":20.6,"c":0.07},{"s":"m","t":21.4,"c":0.04},{"s":"m","t":22.5,"c":0.02},
{"s":"m","t":11.9,"c":0},{"s":"m","t":12.5,"c":0},{"s":"m","t":13,"c":0.08},{"s":"m","t":13.6,"c":0.09},{"s":"m","t":14.1,"c":0.32},{"s":"m","t":15,"c":0.54},{"s":"m","t":15.5,"c":0.88},{"s":"m","t":16,"c":1.1},{"s":"m","t":16.5,"c":1.35},{"s":"m","t":16.95,"c":1.43},{"s":"m","t":17.5,"c":1.53},{"s":"m","t":18,"c":1.53},{"s":"m","t":18.5,"c":1.43},{"s":"m","t":19,"c":1.34},{"s":"m","t":19.5,"c":1.18},{"s":"m","t":20,"c":1.04},{"s":"m","t":20.5,"c":0.9},{"s":"m","t":21,"c":0.77},{"s":"m","t":21.4,"c":0.62},{"s":"m","t":22,"c":0.54},{"s":"m","t":22.5,"c":0.43},{"s":"m","t":23,"c":0.33},{"s":"m","t":23.5,"c":0.26},{"s":"m","t":23.9,"c":0.19},{"s":"m","t":24.5,"c":0.16},{"s":"m","t":25,"c":0.13},{"s":"m","t":25.6,"c":0.11},{"s":"m","t":26.2,"c":0.09},{"s":"m","t":27,"c":0.07},{"s":"m","t":27.8,"c":0.06},{"s":"m","t":28.7,"c":0.04},{"s":"m","t":29.8,"c":0.03},
{"s":"V1","k":1,"t":2.7,"c":0.08},{"s":"V1","k":1,"t":3.27,"c":0.43},{"s":"V1","k":1,"t":3.83,"c":1.33},{"s":"V1","k":1,"t":4.39,"c":2.17},{"s":"V1","k":1,"t":5.03,"c":2.48},{"s":"V1","k":1,"t":5.5,"c":2.37},{"s":"V1","k":1,"t":6.06,"c":2.17},{"s":"V1","k":1,"t":6.62,"c":1.92},{"s":"V1","k":1,"t":7.18,"c":1.57},{"s":"V1","k":1,"t":7.74,"c":1.23},{"s":"V1","k":1,"t":8.3,"c":0.93},{"s":"V1","k":1,"t":8.85,"c":0.68},{"s":"V1","k":1,"t":9.55,"c":0.43},{"s":"V1","k":1,"t":10.25,"c":0.28},{"s":"V1","k":1,"t":11.1,"c":0.16},{"s":"V1","k":1,"t":11.9,"c":0.08},{"s":"V1","k":1,"t":13,"c":0.03},
{"s":"V1","k":2,"t":8.0,"c":0.03},{"s":"V1","k":2,"t":8.6,"c":0.11},{"s":"V1","k":2,"t":9.0,"c":0.63},{"s":"V1","k":2,"t":9.41,"c":1.28},{"s":"V1","k":2,"t":9.83,"c":1.65},{"s":"V1","k":2,"t":10.4,"c":1.77},{"s":"V1","k":2,"t":10.87,"c":1.8},{"s":"V1","k":2,"t":11.37,"c":1.72},{"s":"V1","k":2,"t":11.9,"c":1.65},{"s":"V1","k":2,"t":12.5,"c":1.53},{"s":"V1","k":2,"t":13.0,"c":1.33},{"s":"V1","k":2,"t":13.6,"c":1.08},{"s":"V1","k":2,"t":14.16,"c":0.8},{"s":"V1","k":2,"t":14.7,"c":0.58},{"s":"V1","k":2,"t":15.4,"c":0.38},{"s":"V1","k":2,"t":16.1,"c":0.26},{"s":"V1","k":2,"t":16.95,"c":0.14},{"s":"V1","k":2,"t":17.8,"c":0.08},{"s":"V1","k":2,"t":18.6,"c":0.04},{"s":"V1","k":2,"t":19.5,"c":0.02},
{"s":"V1","k":3,"t":12.8,"c":0.03},{"s":"V1","k":3,"t":13.6,"c":0.13},{"s":"V1","k":3,"t":14.16,"c":0.53},{"s":"V1","k":3,"t":14.7,"c":1.13},{"s":"V1","k":3,"t":15.3,"c":1.38},{"s":"V1","k":3,"t":15.8,"c":1.48},{"s":"V1","k":3,"t":16.4,"c":1.48},{"s":"V1","k":3,"t":16.95,"c":1.38},{"s":"V1","k":3,"t":17.5,"c":1.28},{"s":"V1","k":3,"t":18.2,"c":1.14},{"s":"V1","k":3,"t":18.9,"c":0.95},{"s":"V1","k":3,"t":19.6,"c":0.76},{"s":"V1","k":3,"t":20.3,"c":0.53},{"s":"V1","k":3,"t":21,"c":0.38},{"s":"V1","k":3,"t":21.7,"c":0.26},{"s":"V1","k":3,"t":22.5,"c":0.16},{"s":"V1","k":3,"t":23.4,"c":0.08},{"s":"V1","k":3,"t":24.2,"c":0.03},{"s":"V1","k":3,"t":25.3,"c":0},
{"s":"V2","k":1,"t":2.7,"c":0.08},{"s":"V2","k":1,"t":3.27,"c":0.46},{"s":"V2","k":1,"t":3.83,"c":1.43},{"s":"V2","k":1,"t":4.39,"c":2.32},{"s":"V2","k":1,"t":5.03,"c":2.58},{"s":"V2","k":1,"t":5.5,"c":2.43},{"s":"V2","k":1,"t":6.06,"c":2.21},{"s":"V2","k":1,"t":6.62,"c":1.95},{"s":"V2","k":1,"t":7.18,"c":1.6},{"s":"V2","k":1,"t":7.74,"c":1.24},{"s":"V2","k":1,"t":8.3,"c":0.94},{"s":"V2","k":1,"t":8.85,"c":0.67},{"s":"V2","k":1,"t":9.55,"c":0.42},{"s":"V2","k":1,"t":10.25,"c":0.27},{"s":"V2","k":1,"t":11.1,"c":0.15},{"s":"V2","k":1,"t":12.2,"c":0.06},{"s":"V2","k":1,"t":13.3,"c":0.02},
{"s":"V2","k":2,"t":5.5,"c":0.02},{"s":"V2","k":2,"t":6.6,"c":0.03},{"s":"V2","k":2,"t":7.7,"c":0.11},{"s":"V2","k":2,"t":8.4,"c":0.28},{"s":"V2","k":2,"t":9.0,"c":0.68},{"s":"V2","k":2,"t":9.41,"c":1.23},{"s":"V2","k":2,"t":9.97,"c":1.65},{"s":"V2","k":2,"t":10.67,"c":1.73},{"s":"V2","k":2,"t":11.2,"c":1.65},{"s":"V2","k":2,"t":11.9,"c":1.55},{"s":"V2","k":2,"t":12.5,"c":1.43},{"s":"V2","k":2,"t":13.0,"c":1.25},{"s":"V2","k":2,"t":13.6,"c":1.0},{"s":"V2","k":2,"t":14.16,"c":0.76},{"s":"V2","k":2,"t":14.9,"c":0.51},{"s":"V2","k":2,"t":15.56,"c":0.33},{"s":"V2","k":2,"t":16.4,"c":0.19},{"s":"V2","k":2,"t":17.2,"c":0.11},{"s":"V2","k":2,"t":18.1,"c":0.06},{"s":"V2","k":2,"t":19.2,"c":0.02},
{"s":"V2","k":3,"t":13,"c":0.03},{"s":"V2","k":3,"t":13.6,"c":0.13},{"s":"V2","k":3,"t":14.16,"c":0.63},{"s":"V2","k":3,"t":14.7,"c":1.38},{"s":"V2","k":3,"t":15.3,"c":1.57},{"s":"V2","k":3,"t":15.8,"c":1.66},{"s":"V2","k":3,"t":16.4,"c":1.62},{"s":"V2","k":3,"t":17.1,"c":1.48},{"s":"V2","k":3,"t":17.65,"c":1.35},{"s":"V2","k":3,"t":18.2,"c":1.23},{"s":"V2","k":3,"t":18.9,"c":1.03},{"s":"V2","k":3,"t":19.6,"c":0.8},{"s":"V2","k":3,"t":20.3,"c":0.58},{"s":"V2","k":3,"t":21,"c":0.41},{"s":"V2","k":3,"t":21.7,"c":0.28},{"s":"V2","k":3,"t":22.5,"c":0.17},{"s":"V2","k":3,"t":23.4,"c":0.09},{"s":"V2","k":3,"t":24.2,"c":0.04},{"s":"V2","k":3,"t":25.6,"c":0.01}
],
"E22":[
{"s":"m","t":3.37,"c":0.25},{"s":"m","t":4.0,"c":1.19},{"s":"m","t":4.44,"c":2.31},{"s":"m","t":5.04,"c":2.31},{"s":"m","t":5.48,"c":2.16},{"s":"m","t":5.93,"c":1.44},{"s":"m","t":6.4,"c":1.03},{"s":"m","t":6.96,"c":0.7},{"s":"m","t":7.52,"c":0.5},{"s":"m","t":8.0,"c":0.34},{"s":"m","t":8.5,"c":0.24},{"s":"m","t":9.0,"c":0.15},{"s":"m","t":9.55,"c":0.11},{"s":"m","t":10.1,"c":0.07},{"s":"m","t":10.7,"c":0.05},{"s":"m","t":11.4,"c":0.03},{"s":"m","t":12.1,"c":0.02},{"s":"m","t":12.9,"c":0.01},{"s":"m","t":13.6,"c":0},
{"s":"m","t":5.85,"c":0},{"s":"m","t":6.4,"c":0},{"s":"m","t":6.96,"c":0},{"s":"m","t":7.52,"c":0.07},{"s":"m","t":7.9,"c":0.34},{"s":"m","t":8.44,"c":0.7},{"s":"m","t":8.9,"c":1.13},{"s":"m","t":9.48,"c":1.44},{"s":"m","t":10.0,"c":1.44},{"s":"m","t":10.55,"c":1.35},{"s":"m","t":11.0,"c":1.19},{"s":"m","t":11.4,"c":1.03},{"s":"m","t":11.96,"c":0.77},{"s":"m","t":12.44,"c":0.61},{"s":"m","t":12.9,"c":0.46},{"s":"m","t":13.4,"c":0.34},{"s":"m","t":14,"c":0.26},{"s":"m","t":14.55,"c":0.19},{"s":"m","t":15.1,"c":0.15},{"s":"m","t":15.7,"c":0.11},{"s":"m","t":16.2,"c":0.08},{"s":"m","t":16.96,"c":0.06},{"s":"m","t":17.7,"c":0.04},{"s":"m","t":18.8,"c":0.02},{"s":"m","t":19.9,"c":0.01},
{"s":"m","t":9.55,"c":0},{"s":"m","t":10.0,"c":0.11},{"s":"m","t":10.5,"c":0.3},{"s":"m","t":10.96,"c":0.61},{"s":"m","t":11.4,"c":0.99},{"s":"m","t":12.07,"c":1.19},{"s":"m","t":12.44,"c":1.28},{"s":"m","t":12.96,"c":1.28},{"s":"m","t":13.44,"c":1.19},{"s":"m","t":13.9,"c":1.03},{"s":"m","t":14.4,"c":0.88},{"s":"m","t":15,"c":0.69},{"s":"m","t":15.5,"c":0.52},{"s":"m","t":16.0,"c":0.4},{"s":"m","t":16.6,"c":0.3},{"s":"m","t":17.1,"c":0.23},{"s":"m","t":17.8,"c":0.17},{"s":"m","t":18.4,"c":0.13},{"s":"m","t":19.2,"c":0.1},{"s":"m","t":19.9,"c":0.07},{"s":"m","t":20.7,"c":0.05},{"s":"m","t":21.6,"c":0.04},{"s":"m","t":22.5,"c":0.02},{"s":"m","t":23.6,"c":0.01},{"s":"m","t":24.7,"c":0},
{"s":"m","t":17.3,"c":0.05},{"s":"m","t":18.6,"c":0.15},{"s":"m","t":20.0,"c":0.22},{"s":"m","t":21.0,"c":0.52},{"s":"m","t":22.0,"c":0.88},{"s":"m","t":23.0,"c":0.95},{"s":"m","t":24.0,"c":0.88},{"s":"m","t":25.0,"c":0.71},{"s":"m","t":26.0,"c":0.52},{"s":"m","t":27.0,"c":0.35},{"s":"m","t":28.1,"c":0.23},{"s":"m","t":29.0,"c":0.14},{"s":"m","t":30,"c":0.08},{"s":"m","t":31,"c":0.04},{"s":"m","t":32,"c":0.02},{"s":"m","t":33.1,"c":0.02},{"s":"m","t":34,"c":0},{"s":"m","t":35,"c":0},{"s":"m","t":36.1,"c":0},
{"s":"V1","k":1,"t":3.63,"c":0.91},{"s":"V1","k":1,"t":4.07,"c":1.6},{"s":"V1","k":1,"t":4.44,"c":2.1},{"s":"V1","k":1,"t":4.74,"c":1.89},{"s":"V1","k":1,"t":5.19,"c":1.68},{"s":"V1","k":1,"t":5.67,"c":1.54},{"s":"V1","k":1,"t":6.22,"c":1.23},{"s":"V1","k":1,"t":6.78,"c":0.9},{"s":"V1","k":1,"t":7.26,"c":0.61},{"s":"V1","k":1,"t":7.7,"c":0.38},{"s":"V1","k":1,"t":8.26,"c":0.19},{"s":"V1","k":1,"t":9,"c":0.09},{"s":"V1","k":1,"t":9.93,"c":0.04},{"s":"V1","k":1,"t":11,"c":0.01},
{"s":"V1","k":2,"t":6.22,"c":0.01},{"s":"V1","k":2,"t":6.96,"c":0.07},{"s":"V1","k":2,"t":7.7,"c":0.48},{"s":"V1","k":2,"t":8.26,"c":1.14},{"s":"V1","k":2,"t":8.74,"c":1.45},{"s":"V1","k":2,"t":9.1,"c":1.48},{"s":"V1","k":2,"t":9.63,"c":1.39},{"s":"V1","k":2,"t":10.1,"c":1.29},{"s":"V1","k":2,"t":10.66,"c":1.1},{"s":"V1","k":2,"t":11.2,"c":0.86},{"s":"V1","k":2,"t":11.7,"c":0.61},{"s":"V1","k":2,"t":12.2,"c":0.38},{"s":"V1","k":2,"t":12.8,"c":0.21},{"s":"V1","k":2,"t":13.55,"c":0.1},{"s":"V1","k":2,"t":14.4,"c":0.04},{"s":"V1","k":2,"t":15.5,"c":0.01},
{"s":"V1","k":3,"t":9.93,"c":0.01},{"s":"V1","k":3,"t":10.66,"c":0.05},{"s":"V1","k":3,"t":11.2,"c":0.28},{"s":"V1","k":3,"t":11.7,"c":0.65},{"s":"V1","k":3,"t":12.15,"c":1.08},{"s":"V1","k":3,"t":12.6,"c":1.21},{"s":"V1","k":3,"t":13.07,"c":1.19},{"s":"V1","k":3,"t":13.6,"c":1.08},{"s":"V1","k":3,"t":14.2,"c":0.98},{"s":"V1","k":3,"t":14.7,"c":0.81},{"s":"V1","k":3,"t":15.3,"c":0.59},{"s":"V1","k":3,"t":15.85,"c":0.38},{"s":"V1","k":3,"t":16.4,"c":0.21},{"s":"V1","k":3,"t":17.1,"c":0.11},{"s":"V1","k":3,"t":17.9,"c":0.05},{"s":"V1","k":3,"t":18.8,"c":0.02},
{"s":"V1","k":4,"t":18.6,"c":0.15},{"s":"V1","k":4,"t":19.4,"c":0.36},{"s":"V1","k":4,"t":20.1,"c":0.57},{"s":"V1","k":4,"t":21.0,"c":0.81},{"s":"V1","k":4,"t":21.8,"c":0.88},{"s":"V1","k":4,"t":22.5,"c":0.88},{"s":"V1","k":4,"t":23.3,"c":0.79},{"s":"V1","k":4,"t":24.0,"c":0.67},{"s":"V1","k":4,"t":24.7,"c":0.52},{"s":"V1","k":4,"t":25.7,"c":0.34},{"s":"V1","k":4,"t":26.6,"c":0.21},{"s":"V1","k":4,"t":27.5,"c":0.12},{"s":"V1","k":4,"t":28.4,"c":0.06},{"s":"V1","k":4,"t":29.4,"c":0.03},{"s":"V1","k":4,"t":30.1,"c":0.01},
{"s":"V2","k":1,"t":3.63,"c":0.91},{"s":"V2","k":1,"t":4.07,"c":1.81},{"s":"V2","k":1,"t":4.44,"c":2.25},{"s":"V2","k":1,"t":4.81,"c":2.18},{"s":"V2","k":1,"t":5.3,"c":1.85},{"s":"V2","k":1,"t":5.78,"c":1.6},{"s":"V2","k":1,"t":6.3,"c":1.27},{"s":"V2","k":1,"t":6.78,"c":0.94},{"s":"V2","k":1,"t":7.26,"c":0.63},{"s":"V2","k":1,"t":7.7,"c":0.4},{"s":"V2","k":1,"t":8.26,"c":0.2},{"s":"V2","k":1,"t":9,"c":0.09},{"s":"V2","k":1,"t":10.1,"c":0.03},{"s":"V2","k":1,"t":11.4,"c":0},
{"s":"V2","k":2,"t":6.22,"c":0.01},{"s":"V2","k":2,"t":6.96,"c":0.08},{"s":"V2","k":2,"t":7.7,"c":0.52},{"s":"V2","k":2,"t":8.26,"c":1.23},{"s":"V2","k":2,"t":8.74,"c":1.52},{"s":"V2","k":2,"t":9.1,"c":1.52},{"s":"V2","k":2,"t":9.63,"c":1.41},{"s":"V2","k":2,"t":10.1,"c":1.3},{"s":"V2","k":2,"t":10.66,"c":1.11},{"s":"V2","k":2,"t":11.2,"c":0.86},{"s":"V2","k":2,"t":11.7,"c":0.6},{"s":"V2","k":2,"t":12.2,"c":0.37},{"s":"V2","k":2,"t":12.8,"c":0.2},{"s":"V2","k":2,"t":13.55,"c":0.1},{"s":"V2","k":2,"t":14.55,"c":0.03},{"s":"V2","k":2,"t":15.85,"c":0},
{"s":"V2","k":3,"t":9.93,"c":0.01},{"s":"V2","k":3,"t":10.66,"c":0.06},{"s":"V2","k":3,"t":11.2,"c":0.32},{"s":"V2","k":3,"t":11.7,"c":0.73},{"s":"V2","k":3,"t":12.15,"c":1.12},{"s":"V2","k":3,"t":12.7,"c":1.26},{"s":"V2","k":3,"t":13.2,"c":1.25},{"s":"V2","k":3,"t":13.7,"c":1.14},{"s":"V2","k":3,"t":14.3,"c":1.02},{"s":"V2","k":3,"t":14.8,"c":0.85},{"s":"V2","k":3,"t":15.4,"c":0.62},{"s":"V2","k":3,"t":15.9,"c":0.4},{"s":"V2","k":3,"t":16.5,"c":0.24},{"s":"V2","k":3,"t":17.26,"c":0.11},{"s":"V2","k":3,"t":18.07,"c":0.05},{"s":"V2","k":3,"t":19.2,"c":0.02},
{"s":"V2","k":4,"t":18.6,"c":0.15},{"s":"V2","k":4,"t":19.4,"c":0.38},{"s":"V2","k":4,"t":20.1,"c":0.61},{"s":"V2","k":4,"t":21.0,"c":0.88},{"s":"V2","k":4,"t":21.8,"c":0.96},{"s":"V2","k":4,"t":22.5,"c":0.96},{"s":"V2","k":4,"t":23.3,"c":0.88},{"s":"V2","k":4,"t":24.0,"c":0.73},{"s":"V2","k":4,"t":24.7,"c":0.57},{"s":"V2","k":4,"t":25.7,"c":0.37},{"s":"V2","k":4,"t":26.6,"c":0.24},{"s":"V2","k":4,"t":27.5,"c":0.13},{"s":"V2","k":4,"t":28.4,"c":0.07},{"s":"V2","k":4,"t":29.6,"c":0.03},{"s":"V2","k":4,"t":30.3,"c":0.01}
],
"E23":[
{"s":"m","t":7.8,"c":0},{"s":"m","t":8.8,"c":0.03},{"s":"m","t":10.0,"c":0.36},{"s":"m","t":11.0,"c":0.97},{"s":"m","t":11.8,"c":1.55},{"s":"m","t":12.9,"c":1.62},{"s":"m","t":14.0,"c":1.56},{"s":"m","t":14.9,"c":1.41},{"s":"m","t":16.1,"c":1.2},{"s":"m","t":16.8,"c":0.97},{"s":"m","t":18.0,"c":0.81},{"s":"m","t":18.9,"c":0.62},{"s":"m","t":19.9,"c":0.47},{"s":"m","t":20.9,"c":0.4},{"s":"m","t":22,"c":0.3},{"s":"m","t":23.2,"c":0.24},{"s":"m","t":24.4,"c":0.18},{"s":"m","t":25.8,"c":0.13},{"s":"m","t":27.2,"c":0.1},{"s":"m","t":29.1,"c":0.07},{"s":"m","t":31,"c":0.05},{"s":"m","t":33.4,"c":0.04},{"s":"m","t":36.2,"c":0.03},{"s":"m","t":39,"c":0.02},{"s":"m","t":41.9,"c":0.02},
{"s":"m","t":18.0,"c":0},{"s":"m","t":19,"c":0.05},{"s":"m","t":20.1,"c":0.15},{"s":"m","t":22.0,"c":0.54},{"s":"m","t":23.0,"c":0.88},{"s":"m","t":23.9,"c":1.04},{"s":"m","t":24.9,"c":1.19},{"s":"m","t":26,"c":1.27},{"s":"m","t":27.2,"c":1.27},{"s":"m","t":28.2,"c":1.12},{"s":"m","t":29.1,"c":0.97},{"s":"m","t":30.2,"c":0.83},{"s":"m","t":31,"c":0.71},{"s":"m","t":32,"c":0.6},{"s":"m","t":33.2,"c":0.52},{"s":"m","t":34.1,"c":0.41},{"s":"m","t":35.3,"c":0.35},{"s":"m","t":36.4,"c":0.28},{"s":"m","t":37.6,"c":0.23},{"s":"m","t":38.8,"c":0.18},{"s":"m","t":40.2,"c":0.14},{"s":"m","t":41.9,"c":0.11},{"s":"m","t":43.8,"c":0.08},{"s":"m","t":45.6,"c":0.06},{"s":"m","t":48,"c":0.05},{"s":"m","t":50.4,"c":0.03},{"s":"m","t":53.2,"c":0.03},{"s":"m","t":57,"c":0.02},{"s":"m","t":60.8,"c":0.02},{"s":"m","t":63.1,"c":0.02},
{"s":"m","t":23.9,"c":0},{"s":"m","t":25.3,"c":0.02},{"s":"m","t":26.7,"c":0.05},{"s":"m","t":28.2,"c":0.18},{"s":"m","t":28.8,"c":0.49},{"s":"m","t":30,"c":0.57},{"s":"m","t":30.8,"c":0.71},{"s":"m","t":31.5,"c":0.82},{"s":"m","t":32.1,"c":0.95},{"s":"m","t":32.9,"c":1.04},{"s":"m","t":34.0,"c":1.12},{"s":"m","t":35.3,"c":1.06},{"s":"m","t":36.7,"c":0.91},{"s":"m","t":37.6,"c":0.81},{"s":"m","t":38.8,"c":0.71},{"s":"m","t":40,"c":0.6},{"s":"m","t":41.4,"c":0.49},{"s":"m","t":42.3,"c":0.41},{"s":"m","t":43.6,"c":0.34},{"s":"m","t":44.7,"c":0.27},{"s":"m","t":45.8,"c":0.23},{"s":"m","t":47,"c":0.18},{"s":"m","t":48.5,"c":0.14},{"s":"m","t":49.9,"c":0.11},{"s":"m","t":51.3,"c":0.08},{"s":"m","t":53.2,"c":0.06},{"s":"m","t":55.1,"c":0.05},{"s":"m","t":57.9,"c":0.03},{"s":"m","t":60.8,"c":0.02},
{"s":"m","t":45.7,"c":0},{"s":"m","t":47.1,"c":0.08},{"s":"m","t":48.5,"c":0.24},{"s":"m","t":49.9,"c":0.35},{"s":"m","t":50.6,"c":0.45},{"s":"m","t":51.8,"c":0.55},{"s":"m","t":53,"c":0.62},{"s":"m","t":54.2,"c":0.68},{"s":"m","t":55.6,"c":0.71},{"s":"m","t":57,"c":0.72},{"s":"m","t":58.4,"c":0.71},{"s":"m","t":59.6,"c":0.66},{"s":"m","t":60.8,"c":0.61},{"s":"m","t":62,"c":0.55},{"s":"m","t":63.1,"c":0.5},{"s":"m","t":64.4,"c":0.44},{"s":"m","t":65.5,"c":0.38},{"s":"m","t":66.7,"c":0.34},{"s":"m","t":67.9,"c":0.28},{"s":"m","t":69.3,"c":0.23},{"s":"m","t":70.7,"c":0.19},{"s":"m","t":72.1,"c":0.16},{"s":"m","t":73.5,"c":0.14},{"s":"m","t":75,"c":0.12},{"s":"m","t":76.8,"c":0.09},{"s":"m","t":78.7,"c":0.07},{"s":"m","t":80.6,"c":0.05},{"s":"m","t":82.5,"c":0.04},{"s":"m","t":84.4,"c":0.03},{"s":"m","t":87.2,"c":0.02},{"s":"m","t":90.1,"c":0.02},{"s":"m","t":92.9,"c":0.01},{"s":"m","t":95.7,"c":0.01},{"s":"m","t":98.6,"c":0},{"s":"m","t":100,"c":0},
{"s":"V1","k":1,"t":7.8,"c":0.08},{"s":"V1","k":1,"t":9.3,"c":0.3},{"s":"V1","k":1,"t":10.7,"c":1.0},{"s":"V1","k":1,"t":11.8,"c":1.56},{"s":"V1","k":1,"t":12.8,"c":1.79},{"s":"V1","k":1,"t":13.7,"c":1.78},{"s":"V1","k":1,"t":14.7,"c":1.67},{"s":"V1","k":1,"t":15.9,"c":1.43},{"s":"V1","k":1,"t":17.1,"c":1.15},{"s":"V1","k":1,"t":18.2,"c":0.87},{"s":"V1","k":1,"t":19.7,"c":0.62},{"s":"V1","k":1,"t":21.1,"c":0.43},{"s":"V1","k":1,"t":22.5,"c":0.29},{"s":"V1","k":1,"t":24.4,"c":0.18},{"s":"V1","k":1,"t":26.3,"c":0.12},{"s":"V1","k":1,"t":28.6,"c":0.07},{"s":"V1","k":1,"t":31.5,"c":0.04},{"s":"V1","k":1,"t":34.3,"c":0.03},
{"s":"V1","k":2,"t":17.2,"c":0.07},{"s":"V1","k":2,"t":19.2,"c":0.18},{"s":"V1","k":2,"t":20.6,"c":0.49},{"s":"V1","k":2,"t":22.0,"c":1.06},{"s":"V1","k":2,"t":23.2,"c":1.26},{"s":"V1","k":2,"t":24.4,"c":1.35},{"s":"V1","k":2,"t":25.6,"c":1.32},{"s":"V1","k":2,"t":26.7,"c":1.25},{"s":"V1","k":2,"t":28.2,"c":1.07},{"s":"V1","k":2,"t":29.6,"c":0.87},{"s":"V1","k":2,"t":31,"c":0.62},{"s":"V1","k":2,"t":32.4,"c":0.43},{"s":"V1","k":2,"t":33.8,"c":0.3},{"s":"V1","k":2,"t":35.7,"c":0.21},{"s":"V1","k":2,"t":38.1,"c":0.14},{"s":"V1","k":2,"t":40.9,"c":0.1},{"s":"V1","k":2,"t":43.8,"c":0.07},{"s":"V1","k":2,"t":47.5,"c":0.04},{"s":"V1","k":2,"t":51.3,"c":0.03},
{"s":"V1","k":3,"t":26.7,"c":0.06},{"s":"V1","k":3,"t":28.6,"c":0.12},{"s":"V1","k":3,"t":30.5,"c":0.3},{"s":"V1","k":3,"t":32,"c":0.62},{"s":"V1","k":3,"t":33.1,"c":0.9},{"s":"V1","k":3,"t":34.1,"c":1.07},{"s":"V1","k":3,"t":35.3,"c":1.13},{"s":"V1","k":3,"t":36.7,"c":1.1},{"s":"V1","k":3,"t":38.1,"c":1.01},{"s":"V1","k":3,"t":39.5,"c":0.87},{"s":"V1","k":3,"t":40.9,"c":0.65},{"s":"V1","k":3,"t":42.3,"c":0.46},{"s":"V1","k":3,"t":43.8,"c":0.34},{"s":"V1","k":3,"t":45.7,"c":0.26},{"s":"V1","k":3,"t":48,"c":0.18},{"s":"V1","k":3,"t":50.9,"c":0.12},{"s":"V1","k":3,"t":54.2,"c":0.08},{"s":"V1","k":3,"t":57.9,"c":0.06},{"s":"V1","k":3,"t":62.7,"c":0.04},{"s":"V1","k":3,"t":64.6,"c":0.04},
{"s":"V1","k":4,"t":48,"c":0.05},{"s":"V1","k":4,"t":49.4,"c":0.15},{"s":"V1","k":4,"t":51.3,"c":0.23},{"s":"V1","k":4,"t":53.2,"c":0.32},{"s":"V1","k":4,"t":55.6,"c":0.46},{"s":"V1","k":4,"t":57.5,"c":0.62},{"s":"V1","k":4,"t":58.9,"c":0.79},{"s":"V1","k":4,"t":60.3,"c":0.82},{"s":"V1","k":4,"t":61.7,"c":0.8},{"s":"V1","k":4,"t":63.1,"c":0.77},{"s":"V1","k":4,"t":64.6,"c":0.71},{"s":"V1","k":4,"t":66.4,"c":0.59},{"s":"V1","k":4,"t":68.3,"c":0.44},{"s":"V1","k":4,"t":70.2,"c":0.34},{"s":"V1","k":4,"t":72.1,"c":0.26},{"s":"V1","k":4,"t":75,"c":0.19},{"s":"V1","k":4,"t":77.8,"c":0.15},{"s":"V1","k":4,"t":81.6,"c":0.1},{"s":"V1","k":4,"t":85.3,"c":0.07},{"s":"V1","k":4,"t":90.1,"c":0.04},{"s":"V1","k":4,"t":94.8,"c":0.02},{"s":"V1","k":4,"t":100,"c":0.01},
{"s":"V2","k":1,"t":7.8,"c":0.07},{"s":"V2","k":1,"t":9.3,"c":0.29},{"s":"V2","k":1,"t":10.7,"c":0.96},{"s":"V2","k":1,"t":11.8,"c":1.51},{"s":"V2","k":1,"t":12.8,"c":1.56},{"s":"V2","k":1,"t":13.7,"c":1.54},{"s":"V2","k":1,"t":14.7,"c":1.46},{"s":"V2","k":1,"t":15.9,"c":1.31},{"s":"V2","k":1,"t":17.1,"c":1.06},{"s":"V2","k":1,"t":18.2,"c":0.8},{"s":"V2","k":1,"t":19.7,"c":0.57},{"s":"V2","k":1,"t":21.1,"c":0.4},{"s":"V2","k":1,"t":22.5,"c":0.27},{"s":"V2","k":1,"t":24.4,"c":0.16},{"s":"V2","k":1,"t":26.7,"c":0.08},{"s":"V2","k":1,"t":29.6,"c":0.05},{"s":"V2","k":1,"t":32.4,"c":0.03},
{"s":"V2","k":2,"t":17.2,"c":0.06},{"s":"V2","k":2,"t":19.2,"c":0.16},{"s":"V2","k":2,"t":20.6,"c":0.43},{"s":"V2","k":2,"t":22.0,"c":0.93},{"s":"V2","k":2,"t":23.2,"c":1.18},{"s":"V2","k":2,"t":24.4,"c":1.29},{"s":"V2","k":2,"t":25.6,"c":1.27},{"s":"V2","k":2,"t":26.7,"c":1.2},{"s":"V2","k":2,"t":28.2,"c":1.02},{"s":"V2","k":2,"t":29.6,"c":0.82},{"s":"V2","k":2,"t":31,"c":0.59},{"s":"V2","k":2,"t":32.4,"c":0.4},{"s":"V2","k":2,"t":33.8,"c":0.28},{"s":"V2","k":2,"t":35.7,"c":0.19},{"s":"V2","k":2,"t":38.1,"c":0.13},{"s":"V2","k":2,"t":41.9,"c":0.08},{"s":"V2","k":2,"t":46.6,"c":0.05},{"s":"V2","k":2,"t":51.3,"c":0.03},
{"s":"V2","k":3,"t":26.7,"c":0.05},{"s":"V2","k":3,"t":28.6,"c":0.1},{"s":"V2","k":3,"t":30.5,"c":0.24},{"s":"V2","k":3,"t":32,"c":0.49},{"s":"V2","k":3,"t":33.1,"c":0.8},{"s":"V2","k":3,"t":34.3,"c":0.98},{"s":"V2","k":3,"t":35.4,"c":1.01},{"s":"V2","k":3,"t":36.7,"c":0.96},{"s":"V2","k":3,"t":38.1,"c":0.87},{"s":"V2","k":3,"t":39.5,"c":0.74},{"s":"V2","k":3,"t":40.9,"c":0.57},{"s":"V2","k":3,"t":42.3,"c":0.41},{"s":"V2","k":3,"t":43.8,"c":0.3},{"s":"V2","k":3,"t":45.7,"c":0.23},{"s":"V2","k":3,"t":48,"c":0.15},{"s":"V2","k":3,"t":50.9,"c":0.11},{"s":"V2","k":3,"t":54.2,"c":0.08},{"s":"V2","k":3,"t":57.9,"c":0.05},{"s":"V2","k":3,"t":62.7,"c":0.04},
{"s":"V2","k":4,"t":48,"c":0.04},{"s":"V2","k":4,"t":50.4,"c":0.12},{"s":"V2","k":4,"t":53.2,"c":0.21},{"s":"V2","k":4,"t":55.6,"c":0.32},{"s":"V2","k":4,"t":57.5,"c":0.46},{"s":"V2","k":4,"t":58.9,"c":0.62},{"s":"V2","k":4,"t":60.3,"c":0.66},{"s":"V2","k":4,"t":61.7,"c":0.66},{"s":"V2","k":4,"t":63.1,"c":0.63},{"s":"V2","k":4,"t":64.6,"c":0.57},{"s":"V2","k":4,"t":66.4,"c":0.46},{"s":"V2","k":4,"t":68.3,"c":0.35},{"s":"V2","k":4,"t":70.7,"c":0.26},{"s":"V2","k":4,"t":73.1,"c":0.19},{"s":"V2","k":4,"t":75.9,"c":0.14},{"s":"V2","k":4,"t":79.7,"c":0.09},{"s":"V2","k":4,"t":83.5,"c":0.06},{"s":"V2","k":4,"t":88.2,"c":0.04},{"s":"V2","k":4,"t":93.9,"c":0.02},{"s":"V2","k":4,"t":100,"c":0.01}
],
"E24":[
{"s":"m","t":1.43,"c":0},{"s":"m","t":1.93,"c":0},{"s":"m","t":2.42,"c":0.11},{"s":"m","t":3.0,"c":2.61},{"s":"m","t":3.44,"c":3.85},{"s":"m","t":3.9,"c":3.52},{"s":"m","t":4.5,"c":2.19},{"s":"m","t":4.95,"c":1.33},{"s":"m","t":5.5,"c":0.78},{"s":"m","t":5.9,"c":0.53},{"s":"m","t":6.47,"c":0.25},{"s":"m","t":6.96,"c":0.15},{"s":"m","t":7.4,"c":0.09},{"s":"m","t":7.95,"c":0.08},{"s":"m","t":8.45,"c":0.04},{"s":"m","t":8.95,"c":0.02},{"s":"m","t":9.4,"c":0},
{"s":"m","t":5.5,"c":0.06},{"s":"m","t":5.9,"c":0.5},{"s":"m","t":6.47,"c":1.71},{"s":"m","t":6.96,"c":2.29},{"s":"m","t":7.4,"c":2.54},{"s":"m","t":7.98,"c":2.29},{"s":"m","t":8.5,"c":1.83},{"s":"m","t":8.95,"c":1.39},{"s":"m","t":9.4,"c":0.91},{"s":"m","t":9.96,"c":0.71},{"s":"m","t":10.46,"c":0.48},{"s":"m","t":10.9,"c":0.29},{"s":"m","t":11.5,"c":0.24},{"s":"m","t":11.95,"c":0.11},{"s":"m","t":12.44,"c":0.08},{"s":"m","t":12.94,"c":0.02},{"s":"m","t":13.4,"c":0.02},{"s":"m","t":13.96,"c":0},
{"s":"m","t":8.45,"c":0.46},{"s":"m","t":8.95,"c":1.16},{"s":"m","t":9.4,"c":1.78},{"s":"m","t":9.96,"c":2.1},{"s":"m","t":10.46,"c":2.1},{"s":"m","t":10.9,"c":1.87},{"s":"m","t":11.5,"c":1.51},{"s":"m","t":11.95,"c":1.12},{"s":"m","t":12.44,"c":0.82},{"s":"m","t":12.94,"c":0.57},{"s":"m","t":13.46,"c":0.42},{"s":"m","t":13.96,"c":0.24},{"s":"m","t":14.4,"c":0.15},{"s":"m","t":14.9,"c":0.09},{"s":"m","t":15.4,"c":0.06},{"s":"m","t":15.96,"c":0.02},{"s":"m","t":16.43,"c":0.02},{"s":"m","t":16.9,"c":0.02},{"s":"m","t":17.45,"c":0},{"s":"m","t":17.9,"c":0},{"s":"m","t":18.4,"c":0},{"s":"m","t":18.9,"c":0},
{"s":"m","t":13.96,"c":0.08},{"s":"m","t":14.4,"c":0.24},{"s":"m","t":14.97,"c":0.55},{"s":"m","t":15.96,"c":1.2},{"s":"m","t":16.98,"c":1.55},{"s":"m","t":17.95,"c":1.45},{"s":"m","t":18.96,"c":1.03},{"s":"m","t":19.93,"c":0.65},{"s":"m","t":20.97,"c":0.42},{"s":"m","t":21.9,"c":0.21},{"s":"m","t":22.96,"c":0.11},{"s":"m","t":24,"c":0.05},{"s":"m","t":24.97,"c":0.02},{"s":"m","t":26,"c":0.02},{"s":"m","t":26.97,"c":0.02},{"s":"m","t":28,"c":0.02},{"s":"m","t":29,"c":0.02},{"s":"m","t":30,"c":0.02},
{"s":"V1","k":1,"t":1.98,"c":0},{"s":"V1","k":1,"t":2.48,"c":0.15},{"s":"V1","k":1,"t":2.95,"c":0.84},{"s":"V1","k":1,"t":3.36,"c":2.82},{"s":"V1","k":1,"t":3.63,"c":3.81},{"s":"V1","k":1,"t":3.9,"c":3.96},{"s":"V1","k":1,"t":4.18,"c":3.5},{"s":"V1","k":1,"t":4.51,"c":2.97},{"s":"V1","k":1,"t":4.87,"c":2.51},{"s":"V1","k":1,"t":5.28,"c":1.9},{"s":"V1","k":1,"t":5.7,"c":1.33},{"s":"V1","k":1,"t":6.11,"c":0.84},{"s":"V1","k":1,"t":6.66,"c":0.46},{"s":"V1","k":1,"t":7.2,"c":0.24},{"s":"V1","k":1,"t":7.76,"c":0.11},{"s":"V1","k":1,"t":8.3,"c":0.05},{"s":"V1","k":1,"t":8.86,"c":0.02},
{"s":"V1","k":2,"t":5.28,"c":0},{"s":"V1","k":2,"t":5.78,"c":0.3},{"s":"V1","k":2,"t":6.17,"c":1.07},{"s":"V1","k":2,"t":6.52,"c":1.98},{"s":"V1","k":2,"t":6.88,"c":2.29},{"s":"V1","k":2,"t":7.2,"c":2.51},{"s":"V1","k":2,"t":7.49,"c":2.59},{"s":"V1","k":2,"t":7.76,"c":2.44},{"s":"V1","k":2,"t":8.17,"c":2.06},{"s":"V1","k":2,"t":8.6,"c":1.83},{"s":"V1","k":2,"t":9.0,"c":1.45},{"s":"V1","k":2,"t":9.41,"c":0.99},{"s":"V1","k":2,"t":9.9,"c":0.61},{"s":"V1","k":2,"t":10.38,"c":0.34},{"s":"V1","k":2,"t":10.93,"c":0.15},{"s":"V1","k":2,"t":11.6,"c":0.05},{"s":"V1","k":2,"t":12.4,"c":0.01},
{"s":"V1","k":3,"t":8.3,"c":0},{"s":"V1","k":3,"t":8.72,"c":0.15},{"s":"V1","k":3,"t":9.08,"c":0.76},{"s":"V1","k":3,"t":9.47,"c":1.37},{"s":"V1","k":3,"t":9.83,"c":1.75},{"s":"V1","k":3,"t":10.24,"c":1.98},{"s":"V1","k":3,"t":10.65,"c":2.0},{"s":"V1","k":3,"t":11.06,"c":1.9},{"s":"V1","k":3,"t":11.48,"c":1.75},{"s":"V1","k":3,"t":11.9,"c":1.52},{"s":"V1","k":3,"t":12.39,"c":1.22},{"s":"V1","k":3,"t":12.85,"c":0.91},{"s":"V1","k":3,"t":13.3,"c":0.65},{"s":"V1","k":3,"t":13.8,"c":0.46},{"s":"V1","k":3,"t":14.4,"c":0.3},{"s":"V1","k":3,"t":15.05,"c":0.15},{"s":"V1","k":3,"t":15.7,"c":0.06},{"s":"V1","k":3,"t":16.57,"c":0.02},
{"s":"V1","k":4,"t":14.9,"c":0.04},{"s":"V1","k":4,"t":15.5,"c":0.3},{"s":"V1","k":4,"t":16.0,"c":0.69},{"s":"V1","k":4,"t":16.57,"c":1.07},{"s":"V1","k":4,"t":17.1,"c":1.37},{"s":"V1","k":4,"t":17.7,"c":1.5},{"s":"V1","k":4,"t":18.1,"c":1.5},{"s":"V1","k":4,"t":18.6,"c":1.41},{"s":"V1","k":4,"t":19.2,"c":1.22},{"s":"V1","k":4,"t":19.7,"c":1.07},{"s":"V1","k":4,"t":20.3,"c":0.88},{"s":"V1","k":4,"t":20.8,"c":0.61},{"s":"V1","k":4,"t":21.4,"c":0.37},{"s":"V1","k":4,"t":22.1,"c":0.19},{"s":"V1","k":4,"t":22.9,"c":0.08},{"s":"V1","k":4,"t":24,"c":0.02},{"s":"V1","k":4,"t":25.4,"c":0},
{"s":"V2","k":1,"t":1.98,"c":0},{"s":"V2","k":1,"t":2.48,"c":0.14},{"s":"V2","k":1,"t":2.95,"c":0.76},{"s":"V2","k":1,"t":3.36,"c":2.59},{"s":"V2","k":1,"t":3.63,"c":3.5},{"s":"V2","k":1,"t":3.96,"c":3.75},{"s":"V2","k":1,"t":4.24,"c":3.34},{"s":"V2","k":1,"t":4.6,"c":2.82},{"s":"V2","k":1,"t":4.95,"c":2.29},{"s":"V2","k":1,"t":5.28,"c":1.75},{"s":"V2","k":1,"t":5.7,"c":1.22},{"s":"V2","k":1,"t":6.17,"c":0.76},{"s":"V2","k":1,"t":6.66,"c":0.42},{"s":"V2","k":1,"t":7.2,"c":0.23},{"s":"V2","k":1,"t":7.9,"c":0.09},{"s":"V2","k":1,"t":8.6,"c":0.02},
{"s":"V2","k":2,"t":5.28,"c":0},{"s":"V2","k":2,"t":5.78,"c":0.27},{"s":"V2","k":2,"t":6.17,"c":0.99},{"s":"V2","k":2,"t":6.52,"c":1.9},{"s":"V2","k":2,"t":6.88,"c":2.25},{"s":"V2","k":2,"t":7.2,"c":2.45},{"s":"V2","k":2,"t":7.49,"c":2.53},{"s":"V2","k":2,"t":7.76,"c":2.38},{"s":"V2","k":2,"t":8.17,"c":2.04},{"s":"V2","k":2,"t":8.6,"c":1.79},{"s":"V2","k":2,"t":9.0,"c":1.41},{"s":"V2","k":2,"t":9.41,"c":0.95},{"s":"V2","k":2,"t":9.9,"c":0.57},{"s":"V2","k":2,"t":10.38,"c":0.32},{"s":"V2","k":2,"t":10.93,"c":0.14},{"s":"V2","k":2,"t":11.6,"c":0.04},{"s":"V2","k":2,"t":12.4,"c":0},
{"s":"V2","k":3,"t":8.3,"c":0},{"s":"V2","k":3,"t":8.72,"c":0.11},{"s":"V2","k":3,"t":9.08,"c":0.69},{"s":"V2","k":3,"t":9.47,"c":1.3},{"s":"V2","k":3,"t":9.83,"c":1.71},{"s":"V2","k":3,"t":10.24,"c":1.94},{"s":"V2","k":3,"t":10.65,"c":1.98},{"s":"V2","k":3,"t":11.06,"c":1.9},{"s":"V2","k":3,"t":11.48,"c":1.74},{"s":"V2","k":3,"t":11.9,"c":1.51},{"s":"V2","k":3,"t":12.39,"c":1.2},{"s":"V2","k":3,"t":12.85,"c":0.9},{"s":"V2","k":3,"t":13.3,"c":0.62},{"s":"V2","k":3,"t":13.8,"c":0.44},{"s":"V2","k":3,"t":14.4,"c":0.29},{"s":"V2","k":3,"t":15.05,"c":0.14},{"s":"V2","k":3,"t":15.9,"c":0.05},{"s":"V2","k":3,"t":16.7,"c":0.01},
{"s":"V2","k":4,"t":14.9,"c":0.04},{"s":"V2","k":4,"t":15.5,"c":0.34},{"s":"V2","k":4,"t":16.0,"c":0.72},{"s":"V2","k":4,"t":16.57,"c":1.12},{"s":"V2","k":4,"t":17.1,"c":1.43},{"s":"V2","k":4,"t":17.7,"c":1.6},{"s":"V2","k":4,"t":18.1,"c":1.62},{"s":"V2","k":4,"t":18.6,"c":1.51},{"s":"V2","k":4,"t":19.2,"c":1.32},{"s":"V2","k":4,"t":19.7,"c":1.14},{"s":"V2","k":4,"t":20.3,"c":0.95},{"s":"V2","k":4,"t":20.8,"c":0.67},{"s":"V2","k":4,"t":21.4,"c":0.4},{"s":"V2","k":4,"t":22.1,"c":0.21},{"s":"V2","k":4,"t":22.9,"c":0.09},{"s":"V2","k":4,"t":24,"c":0.03},{"s":"V2","k":4,"t":26.8,"c":0},{"s":"V2","k":4,"t":30,"c":0}
],
"E25":[
{"s":"m","t":3.02,"c":1.2},{"s":"m","t":3.33,"c":2.98},{"s":"m","t":3.69,"c":3.14},{"s":"m","t":4.0,"c":2.72},{"s":"m","t":4.32,"c":2.16},{"s":"m","t":4.32,"c":1.85},{"s":"m","t":4.64,"c":1.23},{"s":"m","t":5.0,"c":0.97},{"s":"m","t":5.35,"c":0.45},{"s":"m","t":5.67,"c":0.28},{"s":"m","t":6.03,"c":0.16},{"s":"m","t":6.31,"c":0.1},{"s":"m","t":6.52,"c":0.03},{"s":"m","t":6.66,"c":0.07},{"s":"m","t":6.99,"c":0.05},{"s":"m","t":7.33,"c":0.05},{"s":"m","t":7.66,"c":0.04},{"s":"m","t":7.98,"c":0.04},{"s":"m","t":8.32,"c":0.02},{"s":"m","t":8.65,"c":0.03},{"s":"m","t":8.97,"c":0},{"s":"m","t":9.33,"c":0},
{"s":"m","t":3.33,"c":0},{"s":"m","t":3.69,"c":0.1},{"s":"m","t":4.0,"c":0.92},{"s":"m","t":4.64,"c":2.77},{"s":"m","t":5.0,"c":2.68},{"s":"m","t":5.35,"c":2.02},{"s":"m","t":5.67,"c":1.23},{"s":"m","t":6.03,"c":0.9},{"s":"m","t":6.31,"c":0.61},{"s":"m","t":6.66,"c":0.43},{"s":"m","t":6.99,"c":0.29},{"s":"m","t":7.33,"c":0.22},{"s":"m","t":7.66,"c":0.12},{"s":"m","t":7.98,"c":0.07},{"s":"m","t":8.32,"c":0.04},{"s":"m","t":8.65,"c":0.03},{"s":"m","t":8.97,"c":0},
{"s":"m","t":6.31,"c":0.09},{"s":"m","t":6.99,"c":0.35},{"s":"m","t":7.51,"c":1.28},{"s":"m","t":8.01,"c":1.8},{"s":"m","t":8.48,"c":1.85},{"s":"m","t":8.97,"c":1.49},{"s":"m","t":9.5,"c":1.05},{"s":"m","t":10.0,"c":0.66},{"s":"m","t":10.49,"c":0.48},{"s":"m","t":11.02,"c":0.28},{"s":"m","t":11.51,"c":0.16},{"s":"m","t":11.98,"c":0.14},{"s":"m","t":12.52,"c":0.07},{"s":"m","t":13,"c":0.05},{"s":"m","t":13.51,"c":0.03},{"s":"m","t":13.99,"c":0.03},{"s":"m","t":14.5,"c":0},{"s":"m","t":14.99,"c":0},
{"s":"V1","k":1,"t":2.55,"c":1.17},{"s":"V1","k":1,"t":2.76,"c":1.92},{"s":"V1","k":1,"t":2.98,"c":2.57},{"s":"V1","k":1,"t":3.16,"c":3.23},{"s":"V1","k":1,"t":3.3,"c":2.83},{"s":"V1","k":1,"t":3.47,"c":2.08},{"s":"V1","k":1,"t":3.69,"c":1.85},{"s":"V1","k":1,"t":3.9,"c":1.69},{"s":"V1","k":1,"t":4.18,"c":1.33},{"s":"V1","k":1,"t":4.47,"c":1.0},{"s":"V1","k":1,"t":4.75,"c":0.74},{"s":"V1","k":1,"t":5.03,"c":0.54},{"s":"V1","k":1,"t":5.39,"c":0.38},{"s":"V1","k":1,"t":5.74,"c":0.27},{"s":"V1","k":1,"t":6.17,"c":0.17},{"s":"V1","k":1,"t":6.59,"c":0.1},{"s":"V1","k":1,"t":7.02,"c":0.07},{"s":"V1","k":1,"t":7.44,"c":0.03},
{"s":"V1","k":2,"t":3.62,"c":0.09},{"s":"V1","k":2,"t":3.83,"c":0.22},{"s":"V1","k":2,"t":4.04,"c":0.48},{"s":"V1","k":2,"t":4.3,"c":1.0},{"s":"V1","k":2,"t":4.54,"c":1.85},{"s":"V1","k":2,"t":4.82,"c":2.44},{"s":"V1","k":2,"t":5.03,"c":2.61},{"s":"V1","k":2,"t":5.25,"c":2.44},{"s":"V1","k":2,"t":5.46,"c":2.02},{"s":"V1","k":2,"t":5.74,"c":1.79},{"s":"V1","k":2,"t":6.03,"c":1.53},{"s":"V1","k":2,"t":6.31,"c":1.2},{"s":"V1","k":2,"t":6.59,"c":0.9},{"s":"V1","k":2,"t":6.88,"c":0.66},{"s":"V1","k":2,"t":7.23,"c":0.48},{"s":"V1","k":2,"t":7.59,"c":0.31},{"s":"V1","k":2,"t":8.01,"c":0.18},{"s":"V1","k":2,"t":8.44,"c":0.1},{"s":"V1","k":2,"t":8.86,"c":0.05},{"s":"V1","k":2,"t":9.29,"c":0.02},
{"s":"V1","k":3,"t":6.31,"c":0.09},{"s":"V1","k":3,"t":6.59,"c":0.15},{"s":"V1","k":3,"t":6.88,"c":0.48},{"s":"V1","k":3,"t":7.16,"c":1.39},{"s":"V1","k":3,"t":7.44,"c":1.92},{"s":"V1","k":3,"t":7.73,"c":2.25},{"s":"V1","k":3,"t":8.01,"c":2.41},{"s":"V1","k":3,"t":8.29,"c":2.46},{"s":"V1","k":3,"t":8.51,"c":2.38},{"s":"V1","k":3,"t":8.72,"c":2.11},{"s":"V1","k":3,"t":9.0,"c":1.79},{"s":"V1","k":3,"t":9.36,"c":1.56},{"s":"V1","k":3,"t":9.71,"c":1.33},{"s":"V1","k":3,"t":10.07,"c":1.07},{"s":"V1","k":3,"t":10.42,"c":0.81},{"s":"V1","k":3,"t":10.85,"c":0.54},{"s":"V1","k":3,"t":11.27,"c":0.35},{"s":"V1","k":3,"t":11.7,"c":0.22},{"s":"V1","k":3,"t":12.12,"c":0.14},{"s":"V1","k":3,"t":12.69,"c":0.07},{"s":"V1","k":3,"t":13.4,"c":0.03},{"s":"V1","k":3,"t":14.1,"c":0.02},{"s":"V1","k":3,"t":14.96,"c":0.01},
{"s":"V2","k":1,"t":2.55,"c":1.17},{"s":"V2","k":1,"t":2.76,"c":1.98},{"s":"V2","k":1,"t":2.98,"c":2.7},{"s":"V2","k":1,"t":3.16,"c":3.29},{"s":"V2","k":1,"t":3.3,"c":2.9},{"s":"V2","k":1,"t":3.47,"c":2.15},{"s":"V2","k":1,"t":3.69,"c":1.89},{"s":"V2","k":1,"t":3.9,"c":1.72},{"s":"V2","k":1,"t":4.18,"c":1.39},{"s":"V2","k":1,"t":4.47,"c":1.08},{"s":"V2","k":1,"t":4.75,"c":0.79},{"s":"V2","k":1,"t":5.03,"c":0.6},{"s":"V2","k":1,"t":5.39,"c":0.43},{"s":"V2","k":1,"t":5.74,"c":0.29},{"s":"V2","k":1,"t":6.17,"c":0.19},{"s":"V2","k":1,"t":6.59,"c":0.12},{"s":"V2","k":1,"t":7.02,"c":0.07},{"s":"V2","k":1,"t":7.44,"c":0.03},
{"s":"V2","k":2,"t":3.62,"c":0.09},{"s":"V2","k":2,"t":3.83,"c":0.22},{"s":"V2","k":2,"t":4.04,"c":0.41},{"s":"V2","k":2,"t":4.3,"c":0.94},{"s":"V2","k":2,"t":4.54,"c":1.79},{"s":"V2","k":2,"t":4.82,"c":2.41},{"s":"V2","k":2,"t":5.03,"c":2.56},{"s":"V2","k":2,"t":5.25,"c":2.41},{"s":"V2","k":2,"t":5.46,"c":2.02},{"s":"V2","k":2,"t":5.74,"c":1.79},{"s":"V2","k":2,"t":6.03,"c":1.56},{"s":"V2","k":2,"t":6.31,"c":1.23},{"s":"V2","k":2,"t":6.59,"c":0.92},{"s":"V2","k":2,"t":6.88,"c":0.67},{"s":"V2","k":2,"t":7.23,"c":0.48},{"s":"V2","k":2,"t":7.59,"c":0.33},{"s":"V2","k":2,"t":8.01,"c":0.2},{"s":"V2","k":2,"t":8.44,"c":0.1},{"s":"V2","k":2,"t":8.86,"c":0.05},{"s":"V2","k":2,"t":9.29,"c":0.02},
{"s":"V2","k":3,"t":6.31,"c":0.07},{"s":"V2","k":3,"t":6.59,"c":0.15},{"s":"V2","k":3,"t":6.88,"c":0.41},{"s":"V2","k":3,"t":7.16,"c":0.94},{"s":"V2","k":3,"t":7.44,"c":1.46},{"s":"V2","k":3,"t":7.73,"c":1.72},{"s":"V2","k":3,"t":8.01,"c":1.84},{"s":"V2","k":3,"t":8.29,"c":1.89},{"s":"V2","k":3,"t":8.58,"c":1.92},{"s":"V2","k":3,"t":8.79,"c":1.72},{"s":"V2","k":3,"t":9.0,"c":1.46},{"s":"V2","k":3,"t":9.36,"c":1.26},{"s":"V2","k":3,"t":9.71,"c":1.1},{"s":"V2","k":3,"t":10.07,"c":0.87},{"s":"V2","k":3,"t":10.42,"c":0.66},{"s":"V2","k":3,"t":10.85,"c":0.45},{"s":"V2","k":3,"t":11.27,"c":0.29},{"s":"V2","k":3,"t":11.7,"c":0.2},{"s":"V2","k":3,"t":12.12,"c":0.13},{"s":"V2","k":3,"t":12.69,"c":0.07},{"s":"V2","k":3,"t":13.4,"c":0.03},{"s":"V2","k":3,"t":14.96,"c":0.01}
],
"E26":[
{"s":"m","t":0.28,"c":0},{"s":"m","t":0.65,"c":0.07},{"s":"m","t":0.98,"c":0},{"s":"m","t":1.29,"c":0},{"s":"m","t":1.63,"c":0.4},{"s":"m","t":1.99,"c":5.12},{"s":"m","t":2.31,"c":9.58},{"s":"m","t":2.64,"c":9.78},{"s":"m","t":2.95,"c":7.66},{"s":"m","t":3.32,"c":3.23},{"s":"m","t":3.66,"c":1.82},{"s":"m","t":3.97,"c":1.12},{"s":"m","t":4.28,"c":0.75},{"s":"m","t":4.62,"c":0.5},{"s":"m","t":4.93,"c":0.32},{"s":"m","t":5.26,"c":0.25},{"s":"m","t":5.6,"c":0.2},{"s":"m","t":5.91,"c":0.15},{"s":"m","t":6.24,"c":0.12},{"s":"m","t":6.56,"c":0.12},{"s":"m","t":6.93,"c":0.07},{"s":"m","t":7.3,"c":0.07},{"s":"m","t":7.66,"c":0.02},{"s":"m","t":8.0,"c":0.02},
{"s":"m","t":2.64,"c":0},{"s":"m","t":2.95,"c":0},{"s":"m","t":3.32,"c":0},{"s":"m","t":3.66,"c":0.1},{"s":"m","t":3.97,"c":0.6},{"s":"m","t":4.28,"c":3.68},{"s":"m","t":4.62,"c":5.55},{"s":"m","t":4.93,"c":6.92},{"s":"m","t":5.26,"c":6.42},{"s":"m","t":5.63,"c":4.3},{"s":"m","t":5.96,"c":3.56},{"s":"m","t":6.28,"c":2.2},{"s":"m","t":6.61,"c":1.7},{"s":"m","t":6.93,"c":1.0},{"s":"m","t":7.3,"c":0.6},{"s":"m","t":7.66,"c":0.35},{"s":"m","t":8.0,"c":0.2},{"s":"m","t":8.31,"c":0.1},{"s":"m","t":8.68,"c":0.05},{"s":"m","t":9.01,"c":0.02},
{"s":"m","t":4.62,"c":0.05},{"s":"m","t":4.93,"c":0.1},{"s":"m","t":5.26,"c":1.02},{"s":"m","t":5.63,"c":2.26},{"s":"m","t":5.96,"c":4.3},{"s":"m","t":6.28,"c":4.8},{"s":"m","t":6.61,"c":4.68},{"s":"m","t":6.93,"c":4.1},{"s":"m","t":7.3,"c":3.56},{"s":"m","t":7.63,"c":2.69},{"s":"m","t":7.94,"c":1.99},{"s":"m","t":8.31,"c":1.82},{"s":"m","t":8.68,"c":0.87},{"s":"m","t":9.01,"c":0.62},{"s":"m","t":9.33,"c":0.45},{"s":"m","t":9.7,"c":0.32},{"s":"m","t":10.0,"c":0.25},{"s":"m","t":10.34,"c":0.15},{"s":"m","t":10.7,"c":0.12},{"s":"m","t":11.04,"c":0.07},{"s":"m","t":11.36,"c":0.07},{"s":"m","t":11.73,"c":0.07},{"s":"m","t":12.06,"c":0.02},{"s":"m","t":12.37,"c":0.02},{"s":"m","t":12.7,"c":0},{"s":"m","t":13.0,"c":0},
{"s":"m","t":11.45,"c":0.8},{"s":"m","t":12.0,"c":1.32},{"s":"m","t":12.47,"c":2.24},{"s":"m","t":12.93,"c":2.81},{"s":"m","t":13.48,"c":3.11},{"s":"m","t":13.94,"c":2.81},{"s":"m","t":14.5,"c":2.31},{"s":"m","t":14.96,"c":1.67},{"s":"m","t":15.48,"c":1.19},{"s":"m","t":15.97,"c":0.82},{"s":"m","t":16.53,"c":0.62},{"s":"m","t":17.03,"c":0.5},{"s":"m","t":17.54,"c":0.32},{"s":"m","t":18.0,"c":0.2},{"s":"m","t":18.52,"c":0.12},{"s":"m","t":19.02,"c":0.12},{"s":"m","t":19.54,"c":0.12},{"s":"m","t":20.0,"c":0.07},
{"s":"V1","k":1,"t":4.25,"c":0.07},{"s":"V1","k":1,"t":4.62,"c":0.32},{"s":"V1","k":1,"t":4.99,"c":1.57},{"s":"V1","k":1,"t":5.26,"c":3.81},{"s":"V1","k":1,"t":5.5,"c":7.29},{"s":"V1","k":1,"t":5.63,"c":9.4},{"s":"V1","k":1,"t":5.76,"c":9.15},{"s":"V1","k":1,"t":5.91,"c":6.79},{"s":"V1","k":1,"t":6.09,"c":3.81},{"s":"V1","k":1,"t":6.32,"c":2.44},{"s":"V1","k":1,"t":6.65,"c":1.57},{"s":"V1","k":1,"t":7.02,"c":0.87},{"s":"V1","k":1,"t":7.48,"c":0.45},{"s":"V1","k":1,"t":8.03,"c":0.2},{"s":"V1","k":1,"t":8.68,"c":0.07},
{"s":"V1","k":2,"t":7.2,"c":0},{"s":"V1","k":2,"t":7.47,"c":0.32},{"s":"V1","k":2,"t":7.75,"c":1.82},{"s":"V1","k":2,"t":8.03,"c":3.56},{"s":"V1","k":2,"t":8.31,"c":4.68},{"s":"V1","k":2,"t":8.59,"c":5.17},{"s":"V1","k":2,"t":8.77,"c":5.05},{"s":"V1","k":2,"t":8.95,"c":3.81},{"s":"V1","k":2,"t":9.14,"c":3.18},{"s":"V1","k":2,"t":9.42,"c":2.69},{"s":"V1","k":2,"t":9.79,"c":1.94},{"s":"V1","k":2,"t":10.16,"c":1.32},{"s":"V1","k":2,"t":10.53,"c":0.82},{"s":"V1","k":2,"t":10.99,"c":0.4},{"s":"V1","k":2,"t":11.45,"c":0.2},{"s":"V1","k":2,"t":12.0,"c":0.05},
{"s":"V1","k":3,"t":8.68,"c":0},{"s":"V1","k":3,"t":8.95,"c":0.32},{"s":"V1","k":3,"t":9.23,"c":1.82},{"s":"V1","k":3,"t":9.51,"c":2.81},{"s":"V1","k":3,"t":9.79,"c":3.43},{"s":"V1","k":3,"t":10.07,"c":3.81},{"s":"V1","k":3,"t":10.25,"c":3.73},{"s":"V1","k":3,"t":10.53,"c":3.06},{"s":"V1","k":3,"t":10.8,"c":2.69},{"s":"V1","k":3,"t":11.17,"c":2.31},{"s":"V1","k":3,"t":11.54,"c":1.82},{"s":"V1","k":3,"t":11.91,"c":1.32},{"s":"V1","k":3,"t":12.37,"c":0.82},{"s":"V1","k":3,"t":12.84,"c":0.4},{"s":"V1","k":3,"t":13.39,"c":0.17},{"s":"V1","k":3,"t":14.04,"c":0.05},{"s":"V1","k":3,"t":14.8,"c":0},
{"s":"V1","k":4,"t":12.0,"c":0.02},{"s":"V1","k":4,"t":12.37,"c":0.2},{"s":"V1","k":4,"t":12.74,"c":1.07},{"s":"V1","k":4,"t":13.2,"c":2.06},{"s":"V1","k":4,"t":13.67,"c":2.69},{"s":"V1","k":4,"t":14.13,"c":2.94},{"s":"V1","k":4,"t":14.59,"c":2.99},{"s":"V1","k":4,"t":15.05,"c":2.81},{"s":"V1","k":4,"t":15.51,"c":2.51},{"s":"V1","k":4,"t":16.07,"c":2.06},{"s":"V1","k":4,"t":16.62,"c":1.44},{"s":"V1","k":4,"t":17.17,"c":0.82},{"s":"V1","k":4,"t":17.73,"c":0.4},{"s":"V1","k":4,"t":18.28,"c":0.17},{"s":"V1","k":4,"t":19.02,"c":0.05},{"s":"V1","k":4,"t":19.76,"c":0.02},
{"s":"V2","k":1,"t":4.25,"c":0.05},{"s":"V2","k":1,"t":4.62,"c":0.37},{"s":"V2","k":1,"t":4.99,"c":1.82},{"s":"V2","k":1,"t":5.26,"c":4.55},{"s":"V2","k":1,"t":5.45,"c":9.03},{"s":"V2","k":1,"t":5.58,"c":13.5},{"s":"V2","k":1,"t":5.67,"c":14.0},{"s":"V2","k":1,"t":5.78,"c":12.26},{"s":"V2","k":1,"t":5.91,"c":8.28},{"s":"V2","k":1,"t":6.09,"c":4.55},{"s":"V2","k":1,"t":6.32,"c":2.81},{"s":"V2","k":1,"t":6.65,"c":1.69},{"s":"V2","k":1,"t":7.02,"c":1.02},{"s":"V2","k":1,"t":7.48,"c":0.52},{"s":"V2","k":1,"t":8.03,"c":0.2},{"s":"V2","k":1,"t":8.68,"c":0.05},
{"s":"V2","k":2,"t":7.2,"c":0},{"s":"V2","k":2,"t":7.47,"c":0.4},{"s":"V2","k":2,"t":7.75,"c":2.31},{"s":"V2","k":2,"t":8.03,"c":4.8},{"s":"V2","k":2,"t":8.31,"c":6.54},{"s":"V2","k":2,"t":8.53,"c":7.04},{"s":"V2","k":2,"t":8.68,"c":7.04},{"s":"V2","k":2,"t":8.86,"c":5.55},{"s":"V2","k":2,"t":9.05,"c":4.55},{"s":"V2","k":2,"t":9.33,"c":3.81},{"s":"V2","k":2,"t":9.7,"c":2.81},{"s":"V2","k":2,"t":10.07,"c":1.82},{"s":"V2","k":2,"t":10.44,"c":1.07},{"s":"V2","k":2,"t":10.9,"c":0.57},{"s":"V2","k":2,"t":11.45,"c":0.2},{"s":"V2","k":2,"t":12.0,"c":0.02},
{"s":"V2","k":3,"t":8.68,"c":0},{"s":"V2","k":3,"t":8.95,"c":0.4},{"s":"V2","k":3,"t":9.23,"c":2.31},{"s":"V2","k":3,"t":9.51,"c":3.81},{"s":"V2","k":3,"t":9.79,"c":4.43},{"s":"V2","k":3,"t":10.07,"c":4.75},{"s":"V2","k":3,"t":10.25,"c":4.55},{"s":"V2","k":3,"t":10.53,"c":3.81},{"s":"V2","k":3,"t":10.8,"c":3.31},{"s":"V2","k":3,"t":11.17,"c":2.81},{"s":"V2","k":3,"t":11.54,"c":2.19},{"s":"V2","k":3,"t":11.82,"c":1.57},{"s":"V2","k":3,"t":12.1,"c":0.95},{"s":"V2","k":3,"t":12.47,"c":0.45},{"s":"V2","k":3,"t":12.93,"c":0.2},{"s":"V2","k":3,"t":13.48,"c":0.07},{"s":"V2","k":3,"t":14.2,"c":0.02},{"s":"V2","k":3,"t":17,"c":0},
{"s":"V2","k":4,"t":12.0,"c":0.02},{"s":"V2","k":4,"t":12.37,"c":0.25},{"s":"V2","k":4,"t":12.74,"c":1.19},{"s":"V2","k":4,"t":13.2,"c":2.26},{"s":"V2","k":4,"t":13.67,"c":2.86},{"s":"V2","k":4,"t":14.13,"c":3.06},{"s":"V2","k":4,"t":14.59,"c":3.06},{"s":"V2","k":4,"t":15.05,"c":2.86},{"s":"V2","k":4,"t":15.51,"c":2.56},{"s":"V2","k":4,"t":16.07,"c":2.11},{"s":"V2","k":4,"t":16.62,"c":1.52},{"s":"V2","k":4,"t":17.17,"c":0.87},{"s":"V2","k":4,"t":17.73,"c":0.45},{"s":"V2","k":4,"t":18.28,"c":0.2},{"s":"V2","k":4,"t":19.02,"c":0.07},{"s":"V2","k":4,"t":19.76,"c":0.02}
]
},
"columns":2,
"spacing":{"row":87,"column":95},
"bounds":"flush",
"resolve":{"scale":{"color":"independent"},"legend":{"color":"independent"}},
"concat":[
 {"width":355,"height":199,"data":{"name":"E17"},"title":{"text":"E17 D5-TE","offset":-2},
  "encoding":{"x":{"field":"t","type":"quantitative","scale":{"domain":[0,250],"nice":false},"axis":{"values":[0,100,200],"title":"Time (min)","titleX":215}},
   "y":{"field":"c","type":"quantitative","scale":{"domain":[0,3.5],"nice":false},"axis":{"values":[0,1,2,3],"title":"C (mg/l)","titleX":-50,"titleY":112}},
   "color":{"field":"s","type":"nominal","scale":{"domain":["m","V1","V2"],"range":["#BA2290","#2A3590","#FFE400"]},"legend":{"title":null,"labelExpr":"datum.value=='m' ? 'measured' : datum.label","encode":{"symbols":{"update":{"shape":{"signal":"datum.value=='m' ? 'square' : 'M-4.7,0L4.7,0'"},"fill":{"signal":"datum.value=='m' ? '#BA2290' : 'transparent'"},"stroke":{"signal":"datum.value=='V1' ? '#2A3590' : (datum.value=='V2' ? '#FFE400' : 'transparent')"},"strokeWidth":{"value":1.5}}}}}}},
  "layer":[
   {"transform":[{"filter":"datum.s=='m'"}],"mark":{"type":"point","shape":"square","filled":true,"size":42,"opacity":1,"clip":true}},
   {"transform":[{"filter":"datum.s!='m'"}],"mark":{"type":"line","strokeWidth":1.3,"interpolate":"monotone","clip":true},"encoding":{"detail":{"field":"k","type":"nominal"}}}
  ]},
 {"width":354,"height":199,"data":{"name":"E18"},"title":{"text":"E18 D5-TE","offset":-11},
  "encoding":{"x":{"field":"t","type":"quantitative","scale":{"domain":[0,150],"nice":false},"axis":{"values":[0,50,100,150],"title":"Time (min)","titleX":174}},
   "y":{"field":"c","type":"quantitative","scale":{"domain":[0,5],"nice":false},"axis":{"values":[0,1,2,3,4,5],"title":"C (mg/l)","titleX":-53,"titleY":111}},
   "color":{"field":"s","type":"nominal","scale":{"domain":["m","V1","V2"],"range":["#BA2290","#2A3590","#FFE400"]},"legend":{"title":null,"labelExpr":"datum.value=='m' ? 'measured' : datum.label","encode":{"symbols":{"update":{"shape":{"signal":"datum.value=='m' ? 'square' : 'M-4.7,0L4.7,0'"},"fill":{"signal":"datum.value=='m' ? '#BA2290' : 'transparent'"},"stroke":{"signal":"datum.value=='V1' ? '#2A3590' : (datum.value=='V2' ? '#FFE400' : 'transparent')"},"strokeWidth":{"value":1.5}}}}}}},
  "layer":[
   {"transform":[{"filter":"datum.s=='m'"}],"mark":{"type":"point","shape":"square","filled":true,"size":42,"opacity":1,"clip":true}},
   {"transform":[{"filter":"datum.s!='m'"}],"mark":{"type":"line","strokeWidth":1.3,"interpolate":"monotone","clip":true},"encoding":{"detail":{"field":"k","type":"nominal"}}}
  ]},
 {"width":361,"height":201,"data":{"name":"E20"},"title":{"text":"E20 D5-TR","offset":-3},
  "encoding":{"x":{"field":"t","type":"quantitative","scale":{"domain":[0,30],"nice":false},"axis":{"values":[0,10,20,30],"title":"Time (min)","titleX":177}},
   "y":{"field":"c","type":"quantitative","scale":{"domain":[0,2.5],"nice":false},"axis":{"values":[0,1,2],"title":"C (mg/l)","titleX":-50,"titleY":121}},
   "color":{"field":"s","type":"nominal","scale":{"domain":["m","V1","V2"],"range":["#BA2290","#2A3590","#FFE400"]},"legend":{"title":null,"labelExpr":"datum.value=='m' ? 'measured' : datum.label","encode":{"symbols":{"update":{"shape":{"signal":"datum.value=='m' ? 'square' : 'M-4.7,0L4.7,0'"},"fill":{"signal":"datum.value=='m' ? '#BA2290' : 'transparent'"},"stroke":{"signal":"datum.value=='V1' ? '#2A3590' : (datum.value=='V2' ? '#FFE400' : 'transparent')"},"strokeWidth":{"value":1.5}}}}}}},
  "layer":[
   {"transform":[{"filter":"datum.s=='m'"}],"mark":{"type":"point","shape":"square","filled":true,"size":42,"opacity":1,"clip":true}},
   {"transform":[{"filter":"datum.s!='m'"}],"mark":{"type":"line","strokeWidth":1.3,"interpolate":"monotone","clip":true},"encoding":{"detail":{"field":"k","type":"nominal"}}}
  ]},
 {"width":358,"height":202,"data":{"name":"E21"},"title":{"text":"E21 D5-TE","offset":-11},
  "encoding":{"x":{"field":"t","type":"quantitative","scale":{"domain":[0,30],"nice":false},"axis":{"values":[0,10,20,30],"title":"Time (min)","titleX":176}},
   "y":{"field":"c","type":"quantitative","scale":{"domain":[0,3],"nice":false},"axis":{"values":[0,1,2,3],"title":"C (mg/l)","titleX":-51,"titleY":116}},
   "color":{"field":"s","type":"nominal","scale":{"domain":["m","V1","V2"],"range":["#BA2290","#2A3590","#FFE400"]},"legend":{"title":null,"labelExpr":"datum.value=='m' ? 'measured' : datum.label","encode":{"symbols":{"update":{"shape":{"signal":"datum.value=='m' ? 'square' : 'M-4.7,0L4.7,0'"},"fill":{"signal":"datum.value=='m' ? '#BA2290' : 'transparent'"},"stroke":{"signal":"datum.value=='V1' ? '#2A3590' : (datum.value=='V2' ? '#FFE400' : 'transparent')"},"strokeWidth":{"value":1.5}}}}}}},
  "layer":[
   {"transform":[{"filter":"datum.s=='m'"}],"mark":{"type":"point","shape":"square","filled":true,"size":42,"opacity":1,"clip":true}},
   {"transform":[{"filter":"datum.s!='m'"}],"mark":{"type":"line","strokeWidth":1.3,"interpolate":"monotone","clip":true},"encoding":{"detail":{"field":"k","type":"nominal"}}}
  ]},
 {"width":361,"height":202,"data":{"name":"E22"},"title":{"text":"E22 D5-VL","offset":-3},
  "encoding":{"x":{"field":"t","type":"quantitative","scale":{"domain":[0,40],"nice":false},"axis":{"values":[0,20,40],"title":"Time (min)","titleX":265}},
   "y":{"field":"c","type":"quantitative","scale":{"domain":[0,2.5],"nice":false},"axis":{"values":[0,1,2],"title":"C (mg/l)","titleX":-50,"titleY":119}},
   "color":{"field":"s","type":"nominal","scale":{"domain":["m","V1","V2"],"range":["#BA2290","#2A3590","#FFE400"]},"legend":{"title":null,"labelExpr":"datum.value=='m' ? 'measured' : datum.label","encode":{"symbols":{"update":{"shape":{"signal":"datum.value=='m' ? 'square' : 'M-4.7,0L4.7,0'"},"fill":{"signal":"datum.value=='m' ? '#BA2290' : 'transparent'"},"stroke":{"signal":"datum.value=='V1' ? '#2A3590' : (datum.value=='V2' ? '#FFE400' : 'transparent')"},"strokeWidth":{"value":1.5}}}}}}},
  "layer":[
   {"transform":[{"filter":"datum.s=='m'"}],"mark":{"type":"point","shape":"square","filled":true,"size":42,"opacity":1,"clip":true}},
   {"transform":[{"filter":"datum.s!='m'"}],"mark":{"type":"line","strokeWidth":1.3,"interpolate":"monotone","clip":true},"encoding":{"detail":{"field":"k","type":"nominal"}}}
  ]},
 {"width":353,"height":202,"data":{"name":"E23"},"title":{"text":"E23 D5-TE","offset":-3},
  "encoding":{"x":{"field":"t","type":"quantitative","scale":{"domain":[0,100],"nice":false},"axis":{"values":[0,50,100],"title":"Time (min)","titleX":243}},
   "y":{"field":"c","type":"quantitative","scale":{"domain":[0,1.9],"nice":false},"axis":{"values":[0,0.5,1,1.5],"title":"C (mg/l)","titleX":-53,"titleY":112}},
   "color":{"field":"s","type":"nominal","scale":{"domain":["m","V1","V2"],"range":["#BA2290","#2A3590","#FFE400"]},"legend":{"title":null,"labelExpr":"datum.value=='m' ? 'measured' : datum.label","encode":{"symbols":{"update":{"shape":{"signal":"datum.value=='m' ? 'square' : 'M-4.7,0L4.7,0'"},"fill":{"signal":"datum.value=='m' ? '#BA2290' : 'transparent'"},"stroke":{"signal":"datum.value=='V1' ? '#2A3590' : (datum.value=='V2' ? '#FFE400' : 'transparent')"},"strokeWidth":{"value":1.5}}}}}}},
  "layer":[
   {"transform":[{"filter":"datum.s=='m'"}],"mark":{"type":"point","shape":"square","filled":true,"size":42,"opacity":1,"clip":true}},
   {"transform":[{"filter":"datum.s!='m'"}],"mark":{"type":"line","strokeWidth":1.3,"interpolate":"monotone","clip":true},"encoding":{"detail":{"field":"k","type":"nominal"}}}
  ]},
 {"width":361,"height":196,"data":{"name":"E24"},"title":{"text":"E24 D5-TR","offset":-3},
  "encoding":{"x":{"field":"t","type":"quantitative","scale":{"domain":[0,30],"nice":false},"axis":{"values":[0,10,20,30],"title":"Time (min)","titleX":179}},
   "y":{"field":"c","type":"quantitative","scale":{"domain":[0,4.5],"nice":false},"axis":{"values":[0,2,4],"title":"C (mg/l)","titleX":-50,"titleY":89}},
   "color":{"field":"s","type":"nominal","scale":{"domain":["m","V1","V2"],"range":["#BA2290","#2A3590","#FFE400"]},"legend":{"title":null,"labelExpr":"datum.value=='m' ? 'measured' : datum.label","encode":{"symbols":{"update":{"shape":{"signal":"datum.value=='m' ? 'square' : 'M-4.7,0L4.7,0'"},"fill":{"signal":"datum.value=='m' ? '#BA2290' : 'transparent'"},"stroke":{"signal":"datum.value=='V1' ? '#2A3590' : (datum.value=='V2' ? '#FFE400' : 'transparent')"},"strokeWidth":{"value":1.5}}}}}}},
  "layer":[
   {"transform":[{"filter":"datum.s=='m'"}],"mark":{"type":"point","shape":"square","filled":true,"size":42,"opacity":1,"clip":true}},
   {"transform":[{"filter":"datum.s!='m'"}],"mark":{"type":"line","strokeWidth":1.3,"interpolate":"monotone","clip":true},"encoding":{"detail":{"field":"k","type":"nominal"}}}
  ]},
 {"width":352,"height":204,"data":{"name":"E25"},"title":{"text":"E25 D5-TR","offset":-15},
  "encoding":{"x":{"field":"t","type":"quantitative","scale":{"domain":[0,15],"nice":false},"axis":{"values":[0,5,10,15],"title":"Time (min)","titleX":175}},
   "y":{"field":"c","type":"quantitative","scale":{"domain":[0,4],"nice":false},"axis":{"values":[0,1,2,3,4],"title":"C (mg/l)","titleX":-56,"titleY":111}},
   "color":{"field":"s","type":"nominal","scale":{"domain":["m","V1","V2"],"range":["#BA2290","#2A3590","#FFE400"]},"legend":{"title":null,"labelExpr":"datum.value=='m' ? 'measured' : datum.label","encode":{"symbols":{"update":{"shape":{"signal":"datum.value=='m' ? 'square' : 'M-4.7,0L4.7,0'"},"fill":{"signal":"datum.value=='m' ? '#BA2290' : 'transparent'"},"stroke":{"signal":"datum.value=='V1' ? '#2A3590' : (datum.value=='V2' ? '#FFE400' : 'transparent')"},"strokeWidth":{"value":1.5}}}}}}},
  "layer":[
   {"transform":[{"filter":"datum.s=='m'"}],"mark":{"type":"point","shape":"square","filled":true,"size":42,"opacity":1,"clip":true}},
   {"transform":[{"filter":"datum.s!='m'"}],"mark":{"type":"line","strokeWidth":1.3,"interpolate":"monotone","clip":true},"encoding":{"detail":{"field":"k","type":"nominal"}}}
  ]},
 {"width":361,"height":201,"data":{"name":"E26"},"title":{"text":"E26 D5-TE","offset":-11},
  "encoding":{"x":{"field":"t","type":"quantitative","scale":{"domain":[0,20],"nice":false},"axis":{"values":[0,5,10,15,20],"title":"Time (min)","titleX":178}},
   "y":{"field":"c","type":"quantitative","scale":{"domain":[0,15],"nice":false},"axis":{"values":[0,5,10,15],"title":"C (mg/l)","titleX":-50,"titleY":112}},
   "color":{"field":"s","type":"nominal","scale":{"domain":["m","V1","V2"],"range":["#BA2290","#2A3590","#FFE400"]},"legend":{"title":null,"labelExpr":"datum.value=='m' ? 'measured' : datum.label","encode":{"symbols":{"update":{"shape":{"signal":"datum.value=='m' ? 'square' : 'M-4.7,0L4.7,0'"},"fill":{"signal":"datum.value=='m' ? '#BA2290' : 'transparent'"},"stroke":{"signal":"datum.value=='V1' ? '#2A3590' : (datum.value=='V2' ? '#FFE400' : 'transparent')"},"strokeWidth":{"value":1.5}}}}}}},
  "layer":[
   {"transform":[{"filter":"datum.s=='m'"}],"mark":{"type":"point","shape":"square","filled":true,"size":42,"opacity":1,"clip":true}},
   {"transform":[{"filter":"datum.s!='m'"}],"mark":{"type":"line","strokeWidth":1.3,"interpolate":"monotone","clip":true},"encoding":{"detail":{"field":"k","type":"nominal"}}}
  ]}
]
}
